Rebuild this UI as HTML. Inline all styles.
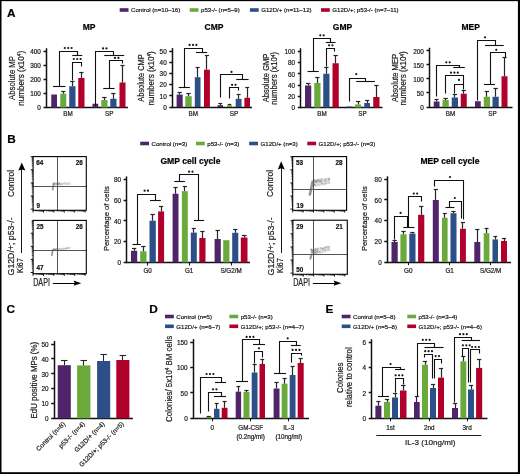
<!DOCTYPE html>
<html><head><meta charset="utf-8"><style>
html,body{margin:0;padding:0;background:#fff;}
body{width:520px;height:474px;overflow:hidden;font-family:"Liberation Sans", sans-serif;}
svg{display:block;filter:blur(0.45px);}
</style></head><body>
<svg width="520" height="474" viewBox="0 0 520 474" font-family='"Liberation Sans", sans-serif'>
<rect x="0.00" y="0.00" width="520.00" height="474.00" fill="#fff"/>
<text x="7.00" y="17.30" font-size="11.8" text-anchor="start" font-weight="bold" fill="#000" stroke="#000" stroke-width="0.2">A</text>
<text x="7.30" y="142.90" font-size="11.8" text-anchor="start" font-weight="bold" fill="#000" stroke="#000" stroke-width="0.2">B</text>
<text x="6.60" y="313.30" font-size="11.8" text-anchor="start" font-weight="bold" fill="#000" stroke="#000" stroke-width="0.2">C</text>
<text x="149.20" y="312.80" font-size="11.8" text-anchor="start" font-weight="bold" fill="#000" stroke="#000" stroke-width="0.2">D</text>
<text x="325.50" y="312.80" font-size="11.8" text-anchor="start" font-weight="bold" fill="#000" stroke="#000" stroke-width="0.2">E</text>
<rect x="119.70" y="8.20" width="8.80" height="3.60" fill="#4f2468"/>
<text x="131.00" y="12.20" font-size="6.1" text-anchor="start" font-weight="normal" fill="#1a1a1a" stroke="#1a1a1a" stroke-width="0.2">Control (n=10–16)</text>
<rect x="189.70" y="8.20" width="8.80" height="3.60" fill="#6aaa3c"/>
<text x="201.00" y="12.20" font-size="6.1" text-anchor="start" font-weight="normal" fill="#1a1a1a" stroke="#1a1a1a" stroke-width="0.2">p53-/- (n=5–9)</text>
<rect x="249.90" y="8.20" width="8.80" height="3.60" fill="#2c4f88"/>
<text x="261.20" y="12.20" font-size="6.1" text-anchor="start" font-weight="normal" fill="#1a1a1a" stroke="#1a1a1a" stroke-width="0.2">G12D/+ (n=11–12)</text>
<rect x="321.00" y="8.20" width="8.80" height="3.60" fill="#b1002b"/>
<text x="332.30" y="12.20" font-size="6.1" text-anchor="start" font-weight="normal" fill="#1a1a1a" stroke="#1a1a1a" stroke-width="0.2">G12D/+; p53-/- (n=7–11)</text>
<text x="89.00" y="29.90" font-size="8.5" text-anchor="middle" font-weight="bold" fill="#000" stroke="#000" stroke-width="0.2">MP</text>
<line x1="46.50" y1="48.25" x2="46.50" y2="108.10" stroke="#111" stroke-width="1.5"/>
<line x1="43.50" y1="107.50" x2="46.50" y2="107.50" stroke="#111" stroke-width="1.5"/>
<text x="40.90" y="110.30" font-size="6.4" text-anchor="end" font-weight="normal" fill="#1a1a1a" stroke="#1a1a1a" stroke-width="0.2">0</text>
<line x1="43.50" y1="93.50" x2="46.50" y2="93.50" stroke="#111" stroke-width="1.5"/>
<text x="40.90" y="96.24" font-size="6.4" text-anchor="end" font-weight="normal" fill="#1a1a1a" stroke="#1a1a1a" stroke-width="0.2">100</text>
<line x1="43.50" y1="79.50" x2="46.50" y2="79.50" stroke="#111" stroke-width="1.5"/>
<text x="40.90" y="82.18" font-size="6.4" text-anchor="end" font-weight="normal" fill="#1a1a1a" stroke="#1a1a1a" stroke-width="0.2">200</text>
<line x1="43.50" y1="65.50" x2="46.50" y2="65.50" stroke="#111" stroke-width="1.5"/>
<text x="40.90" y="68.12" font-size="6.4" text-anchor="end" font-weight="normal" fill="#1a1a1a" stroke="#1a1a1a" stroke-width="0.2">300</text>
<line x1="43.50" y1="51.50" x2="46.50" y2="51.50" stroke="#111" stroke-width="1.5"/>
<text x="40.90" y="54.05" font-size="6.4" text-anchor="end" font-weight="normal" fill="#1a1a1a" stroke="#1a1a1a" stroke-width="0.2">400</text>
<line x1="45.90" y1="107.50" x2="128.00" y2="107.50" stroke="#111" stroke-width="1.5"/>
<rect x="51.25" y="94.50" width="5.75" height="13.00" fill="#4f2468"/>
<rect x="60.25" y="93.75" width="6.00" height="13.75" fill="#6aaa3c"/>
<rect x="69.25" y="86.25" width="6.25" height="21.25" fill="#2c4f88"/>
<rect x="78.25" y="78.00" width="6.25" height="29.50" fill="#b1002b"/>
<line x1="63.50" y1="93.75" x2="63.50" y2="91.25" stroke="#262626" stroke-width="1.2"/>
<line x1="61.15" y1="91.50" x2="65.35" y2="91.50" stroke="#262626" stroke-width="1.2"/>
<line x1="72.50" y1="86.25" x2="72.50" y2="81.75" stroke="#262626" stroke-width="1.2"/>
<line x1="70.19" y1="81.50" x2="74.56" y2="81.50" stroke="#262626" stroke-width="1.2"/>
<line x1="81.50" y1="78.00" x2="81.50" y2="72.50" stroke="#262626" stroke-width="1.2"/>
<line x1="79.19" y1="72.50" x2="83.56" y2="72.50" stroke="#262626" stroke-width="1.2"/>
<rect x="92.50" y="103.75" width="5.75" height="3.75" fill="#4f2468"/>
<rect x="101.25" y="100.00" width="6.25" height="7.50" fill="#6aaa3c"/>
<rect x="110.25" y="98.75" width="6.25" height="8.75" fill="#2c4f88"/>
<rect x="119.50" y="82.50" width="6.00" height="25.00" fill="#b1002b"/>
<line x1="104.50" y1="100.00" x2="104.50" y2="97.00" stroke="#262626" stroke-width="1.2"/>
<line x1="102.19" y1="97.50" x2="106.56" y2="97.50" stroke="#262626" stroke-width="1.2"/>
<line x1="113.50" y1="98.75" x2="113.50" y2="93.00" stroke="#262626" stroke-width="1.2"/>
<line x1="111.19" y1="93.50" x2="115.56" y2="93.50" stroke="#262626" stroke-width="1.2"/>
<line x1="122.50" y1="82.50" x2="122.50" y2="65.75" stroke="#262626" stroke-width="1.2"/>
<line x1="120.40" y1="65.50" x2="124.60" y2="65.50" stroke="#262626" stroke-width="1.2"/>
<text x="68.10" y="116.00" font-size="6.3" text-anchor="middle" font-weight="normal" fill="#1a1a1a" stroke="#1a1a1a" stroke-width="0.2">BM</text>
<text x="109.30" y="116.00" font-size="6.3" text-anchor="middle" font-weight="normal" fill="#1a1a1a" stroke="#1a1a1a" stroke-width="0.2">SP</text>
<text x="14.90" y="78.00" font-size="8.4" text-anchor="middle" font-weight="normal" fill="#1a1a1a" stroke="#1a1a1a" stroke-width="0.2" transform="rotate(-90 14.90 78.00)" textLength="43.9" lengthAdjust="spacingAndGlyphs">Absolute MP</text>
<text x="24.00" y="78.30" font-size="8.4" text-anchor="middle" font-weight="normal" fill="#1a1a1a" stroke="#1a1a1a" stroke-width="0.2" transform="rotate(-90 24.00 78.30)" textLength="54.9" lengthAdjust="spacingAndGlyphs">numbers (x10<tspan dy="-2.5" font-size="5">4</tspan><tspan dy="2.5">)</tspan></text>
<text x="214.00" y="29.90" font-size="8.5" text-anchor="middle" font-weight="bold" fill="#000" stroke="#000" stroke-width="0.2">CMP</text>
<line x1="172.50" y1="48.10" x2="172.50" y2="107.60" stroke="#111" stroke-width="1.5"/>
<line x1="169.30" y1="107.50" x2="172.30" y2="107.50" stroke="#111" stroke-width="1.5"/>
<text x="166.70" y="109.80" font-size="6.4" text-anchor="end" font-weight="normal" fill="#1a1a1a" stroke="#1a1a1a" stroke-width="0.2">0</text>
<line x1="169.30" y1="95.50" x2="172.30" y2="95.50" stroke="#111" stroke-width="1.5"/>
<text x="166.70" y="98.62" font-size="6.4" text-anchor="end" font-weight="normal" fill="#1a1a1a" stroke="#1a1a1a" stroke-width="0.2">10</text>
<line x1="169.30" y1="84.50" x2="172.30" y2="84.50" stroke="#111" stroke-width="1.5"/>
<text x="166.70" y="87.44" font-size="6.4" text-anchor="end" font-weight="normal" fill="#1a1a1a" stroke="#1a1a1a" stroke-width="0.2">20</text>
<line x1="169.30" y1="73.50" x2="172.30" y2="73.50" stroke="#111" stroke-width="1.5"/>
<text x="166.70" y="76.26" font-size="6.4" text-anchor="end" font-weight="normal" fill="#1a1a1a" stroke="#1a1a1a" stroke-width="0.2">30</text>
<line x1="169.30" y1="62.50" x2="172.30" y2="62.50" stroke="#111" stroke-width="1.5"/>
<text x="166.70" y="65.08" font-size="6.4" text-anchor="end" font-weight="normal" fill="#1a1a1a" stroke="#1a1a1a" stroke-width="0.2">40</text>
<line x1="169.30" y1="51.50" x2="172.30" y2="51.50" stroke="#111" stroke-width="1.5"/>
<text x="166.70" y="53.90" font-size="6.4" text-anchor="end" font-weight="normal" fill="#1a1a1a" stroke="#1a1a1a" stroke-width="0.2">50</text>
<line x1="171.70" y1="107.50" x2="252.00" y2="107.50" stroke="#111" stroke-width="1.5"/>
<rect x="176.60" y="94.60" width="6.10" height="12.40" fill="#4f2468"/>
<rect x="185.30" y="96.20" width="6.40" height="10.80" fill="#6aaa3c"/>
<rect x="194.80" y="77.20" width="5.70" height="29.80" fill="#2c4f88"/>
<rect x="204.00" y="69.70" width="5.90" height="37.30" fill="#b1002b"/>
<line x1="179.50" y1="94.60" x2="179.50" y2="92.20" stroke="#262626" stroke-width="1.2"/>
<line x1="177.51" y1="92.50" x2="181.78" y2="92.50" stroke="#262626" stroke-width="1.2"/>
<line x1="188.50" y1="96.20" x2="188.50" y2="93.50" stroke="#262626" stroke-width="1.2"/>
<line x1="186.26" y1="93.50" x2="190.74" y2="93.50" stroke="#262626" stroke-width="1.2"/>
<line x1="197.50" y1="77.20" x2="197.50" y2="67.20" stroke="#262626" stroke-width="1.2"/>
<line x1="195.66" y1="67.50" x2="199.65" y2="67.50" stroke="#262626" stroke-width="1.2"/>
<line x1="206.50" y1="69.70" x2="206.50" y2="55.80" stroke="#262626" stroke-width="1.2"/>
<line x1="204.88" y1="55.50" x2="209.01" y2="55.50" stroke="#262626" stroke-width="1.2"/>
<rect x="217.50" y="105.20" width="5.50" height="1.80" fill="#4f2468"/>
<rect x="227.00" y="105.20" width="5.00" height="1.80" fill="#6aaa3c"/>
<rect x="235.70" y="98.90" width="5.80" height="8.10" fill="#2c4f88"/>
<rect x="244.40" y="97.80" width="5.60" height="9.20" fill="#b1002b"/>
<line x1="220.50" y1="105.20" x2="220.50" y2="103.30" stroke="#262626" stroke-width="1.2"/>
<line x1="218.32" y1="103.50" x2="222.18" y2="103.50" stroke="#262626" stroke-width="1.2"/>
<line x1="229.50" y1="105.20" x2="229.50" y2="104.00" stroke="#262626" stroke-width="1.2"/>
<line x1="227.75" y1="104.50" x2="231.25" y2="104.50" stroke="#262626" stroke-width="1.2"/>
<line x1="238.50" y1="98.90" x2="238.50" y2="94.30" stroke="#262626" stroke-width="1.2"/>
<line x1="236.57" y1="94.50" x2="240.63" y2="94.50" stroke="#262626" stroke-width="1.2"/>
<line x1="247.50" y1="97.80" x2="247.50" y2="87.50" stroke="#262626" stroke-width="1.2"/>
<line x1="245.24" y1="87.50" x2="249.16" y2="87.50" stroke="#262626" stroke-width="1.2"/>
<text x="193.20" y="116.00" font-size="6.3" text-anchor="middle" font-weight="normal" fill="#1a1a1a" stroke="#1a1a1a" stroke-width="0.2">BM</text>
<text x="234.00" y="116.00" font-size="6.3" text-anchor="middle" font-weight="normal" fill="#1a1a1a" stroke="#1a1a1a" stroke-width="0.2">SP</text>
<text x="144.30" y="78.00" font-size="8.4" text-anchor="middle" font-weight="normal" fill="#1a1a1a" stroke="#1a1a1a" stroke-width="0.2" transform="rotate(-90 144.30 78.00)" textLength="47.3" lengthAdjust="spacingAndGlyphs">Absolute CMP</text>
<text x="153.80" y="78.30" font-size="8.4" text-anchor="middle" font-weight="normal" fill="#1a1a1a" stroke="#1a1a1a" stroke-width="0.2" transform="rotate(-90 153.80 78.30)" textLength="54.2" lengthAdjust="spacingAndGlyphs">numbers (x10<tspan dy="-2.5" font-size="5">4</tspan><tspan dy="2.5">)</tspan></text>
<text x="342.50" y="29.90" font-size="8.5" text-anchor="middle" font-weight="bold" fill="#000" stroke="#000" stroke-width="0.2">GMP</text>
<line x1="300.50" y1="48.25" x2="300.50" y2="108.10" stroke="#111" stroke-width="1.5"/>
<line x1="297.75" y1="107.50" x2="300.75" y2="107.50" stroke="#111" stroke-width="1.5"/>
<text x="295.15" y="110.30" font-size="6.4" text-anchor="end" font-weight="normal" fill="#1a1a1a" stroke="#1a1a1a" stroke-width="0.2">0</text>
<line x1="297.75" y1="96.50" x2="300.75" y2="96.50" stroke="#111" stroke-width="1.5"/>
<text x="295.15" y="99.05" font-size="6.4" text-anchor="end" font-weight="normal" fill="#1a1a1a" stroke="#1a1a1a" stroke-width="0.2">20</text>
<line x1="297.75" y1="85.50" x2="300.75" y2="85.50" stroke="#111" stroke-width="1.5"/>
<text x="295.15" y="87.80" font-size="6.4" text-anchor="end" font-weight="normal" fill="#1a1a1a" stroke="#1a1a1a" stroke-width="0.2">40</text>
<line x1="297.75" y1="73.50" x2="300.75" y2="73.50" stroke="#111" stroke-width="1.5"/>
<text x="295.15" y="76.55" font-size="6.4" text-anchor="end" font-weight="normal" fill="#1a1a1a" stroke="#1a1a1a" stroke-width="0.2">60</text>
<line x1="297.75" y1="62.50" x2="300.75" y2="62.50" stroke="#111" stroke-width="1.5"/>
<text x="295.15" y="65.30" font-size="6.4" text-anchor="end" font-weight="normal" fill="#1a1a1a" stroke="#1a1a1a" stroke-width="0.2">80</text>
<line x1="297.75" y1="51.50" x2="300.75" y2="51.50" stroke="#111" stroke-width="1.5"/>
<text x="295.15" y="54.05" font-size="6.4" text-anchor="end" font-weight="normal" fill="#1a1a1a" stroke="#1a1a1a" stroke-width="0.2">100</text>
<line x1="300.15" y1="107.50" x2="382.50" y2="107.50" stroke="#111" stroke-width="1.5"/>
<rect x="305.00" y="85.50" width="6.25" height="22.00" fill="#4f2468"/>
<rect x="314.25" y="83.00" width="6.25" height="24.50" fill="#6aaa3c"/>
<rect x="323.25" y="73.75" width="6.25" height="33.75" fill="#2c4f88"/>
<rect x="332.50" y="63.25" width="6.25" height="44.25" fill="#b1002b"/>
<line x1="308.50" y1="85.50" x2="308.50" y2="83.25" stroke="#262626" stroke-width="1.2"/>
<line x1="305.94" y1="83.50" x2="310.31" y2="83.50" stroke="#262626" stroke-width="1.2"/>
<line x1="317.50" y1="83.00" x2="317.50" y2="77.00" stroke="#262626" stroke-width="1.2"/>
<line x1="315.19" y1="77.50" x2="319.56" y2="77.50" stroke="#262626" stroke-width="1.2"/>
<line x1="326.50" y1="73.75" x2="326.50" y2="67.50" stroke="#262626" stroke-width="1.2"/>
<line x1="324.19" y1="67.50" x2="328.56" y2="67.50" stroke="#262626" stroke-width="1.2"/>
<line x1="335.50" y1="63.25" x2="335.50" y2="55.00" stroke="#262626" stroke-width="1.2"/>
<line x1="333.44" y1="55.50" x2="337.81" y2="55.50" stroke="#262626" stroke-width="1.2"/>
<rect x="346.25" y="106.60" width="5.75" height="0.90" fill="#4f2468"/>
<rect x="355.00" y="104.50" width="6.25" height="3.00" fill="#6aaa3c"/>
<rect x="364.25" y="103.00" width="5.75" height="4.50" fill="#2c4f88"/>
<rect x="373.25" y="97.00" width="6.25" height="10.50" fill="#b1002b"/>
<line x1="358.50" y1="104.50" x2="358.50" y2="101.75" stroke="#262626" stroke-width="1.2"/>
<line x1="355.94" y1="101.50" x2="360.31" y2="101.50" stroke="#262626" stroke-width="1.2"/>
<line x1="367.50" y1="103.00" x2="367.50" y2="100.00" stroke="#262626" stroke-width="1.2"/>
<line x1="365.11" y1="100.50" x2="369.14" y2="100.50" stroke="#262626" stroke-width="1.2"/>
<line x1="376.50" y1="97.00" x2="376.50" y2="85.75" stroke="#262626" stroke-width="1.2"/>
<line x1="374.19" y1="85.50" x2="378.56" y2="85.50" stroke="#262626" stroke-width="1.2"/>
<text x="322.00" y="116.00" font-size="6.3" text-anchor="middle" font-weight="normal" fill="#1a1a1a" stroke="#1a1a1a" stroke-width="0.2">BM</text>
<text x="362.50" y="116.00" font-size="6.3" text-anchor="middle" font-weight="normal" fill="#1a1a1a" stroke="#1a1a1a" stroke-width="0.2">SP</text>
<text x="268.60" y="78.00" font-size="8.4" text-anchor="middle" font-weight="normal" fill="#1a1a1a" stroke="#1a1a1a" stroke-width="0.2" transform="rotate(-90 268.60 78.00)" textLength="48.7" lengthAdjust="spacingAndGlyphs">Absolute GMP</text>
<text x="277.40" y="78.30" font-size="8.4" text-anchor="middle" font-weight="normal" fill="#1a1a1a" stroke="#1a1a1a" stroke-width="0.2" transform="rotate(-90 277.40 78.30)" textLength="52.9" lengthAdjust="spacingAndGlyphs">numbers (x10<tspan dy="-2.5" font-size="5">4</tspan><tspan dy="2.5">)</tspan></text>
<text x="470.75" y="29.90" font-size="8.5" text-anchor="middle" font-weight="bold" fill="#000" stroke="#000" stroke-width="0.2">MEP</text>
<line x1="429.50" y1="47.75" x2="429.50" y2="107.60" stroke="#111" stroke-width="1.5"/>
<line x1="426.50" y1="107.50" x2="429.50" y2="107.50" stroke="#111" stroke-width="1.5"/>
<text x="423.90" y="109.80" font-size="6.4" text-anchor="end" font-weight="normal" fill="#1a1a1a" stroke="#1a1a1a" stroke-width="0.2">0</text>
<line x1="426.50" y1="92.50" x2="429.50" y2="92.50" stroke="#111" stroke-width="1.5"/>
<text x="423.90" y="95.74" font-size="6.4" text-anchor="end" font-weight="normal" fill="#1a1a1a" stroke="#1a1a1a" stroke-width="0.2">50</text>
<line x1="426.50" y1="78.50" x2="429.50" y2="78.50" stroke="#111" stroke-width="1.5"/>
<text x="423.90" y="81.68" font-size="6.4" text-anchor="end" font-weight="normal" fill="#1a1a1a" stroke="#1a1a1a" stroke-width="0.2">100</text>
<line x1="426.50" y1="64.50" x2="429.50" y2="64.50" stroke="#111" stroke-width="1.5"/>
<text x="423.90" y="67.62" font-size="6.4" text-anchor="end" font-weight="normal" fill="#1a1a1a" stroke="#1a1a1a" stroke-width="0.2">150</text>
<line x1="426.50" y1="50.50" x2="429.50" y2="50.50" stroke="#111" stroke-width="1.5"/>
<text x="423.90" y="53.55" font-size="6.4" text-anchor="end" font-weight="normal" fill="#1a1a1a" stroke="#1a1a1a" stroke-width="0.2">200</text>
<line x1="428.90" y1="107.50" x2="512.50" y2="107.50" stroke="#111" stroke-width="1.5"/>
<rect x="433.75" y="101.50" width="5.75" height="5.50" fill="#4f2468"/>
<rect x="442.50" y="100.00" width="6.25" height="7.00" fill="#6aaa3c"/>
<rect x="451.75" y="97.50" width="6.25" height="9.50" fill="#2c4f88"/>
<rect x="460.75" y="93.75" width="6.00" height="13.25" fill="#b1002b"/>
<line x1="436.50" y1="101.50" x2="436.50" y2="99.50" stroke="#262626" stroke-width="1.2"/>
<line x1="434.61" y1="99.50" x2="438.64" y2="99.50" stroke="#262626" stroke-width="1.2"/>
<line x1="445.50" y1="100.00" x2="445.50" y2="98.00" stroke="#262626" stroke-width="1.2"/>
<line x1="443.44" y1="98.50" x2="447.81" y2="98.50" stroke="#262626" stroke-width="1.2"/>
<line x1="454.50" y1="97.50" x2="454.50" y2="94.25" stroke="#262626" stroke-width="1.2"/>
<line x1="452.69" y1="94.50" x2="457.06" y2="94.50" stroke="#262626" stroke-width="1.2"/>
<line x1="463.50" y1="93.75" x2="463.50" y2="90.75" stroke="#262626" stroke-width="1.2"/>
<line x1="461.65" y1="90.50" x2="465.85" y2="90.50" stroke="#262626" stroke-width="1.2"/>
<rect x="475.00" y="101.25" width="5.75" height="5.75" fill="#4f2468"/>
<rect x="483.75" y="96.75" width="6.25" height="10.25" fill="#6aaa3c"/>
<rect x="492.50" y="96.75" width="6.25" height="10.25" fill="#2c4f88"/>
<rect x="501.50" y="76.25" width="6.00" height="30.75" fill="#b1002b"/>
<line x1="486.50" y1="96.75" x2="486.50" y2="91.25" stroke="#262626" stroke-width="1.2"/>
<line x1="484.69" y1="91.50" x2="489.06" y2="91.50" stroke="#262626" stroke-width="1.2"/>
<line x1="495.50" y1="96.75" x2="495.50" y2="88.00" stroke="#262626" stroke-width="1.2"/>
<line x1="493.44" y1="88.50" x2="497.81" y2="88.50" stroke="#262626" stroke-width="1.2"/>
<line x1="504.50" y1="76.25" x2="504.50" y2="57.50" stroke="#262626" stroke-width="1.2"/>
<line x1="502.40" y1="57.50" x2="506.60" y2="57.50" stroke="#262626" stroke-width="1.2"/>
<text x="450.50" y="116.00" font-size="6.3" text-anchor="middle" font-weight="normal" fill="#1a1a1a" stroke="#1a1a1a" stroke-width="0.2">BM</text>
<text x="492.50" y="116.00" font-size="6.3" text-anchor="middle" font-weight="normal" fill="#1a1a1a" stroke="#1a1a1a" stroke-width="0.2">SP</text>
<text x="398.20" y="78.00" font-size="8.4" text-anchor="middle" font-weight="normal" fill="#1a1a1a" stroke="#1a1a1a" stroke-width="0.2" transform="rotate(-90 398.20 78.00)" textLength="48.0" lengthAdjust="spacingAndGlyphs">Absolute MEP</text>
<text x="406.10" y="78.30" font-size="8.4" text-anchor="middle" font-weight="normal" fill="#1a1a1a" stroke="#1a1a1a" stroke-width="0.2" transform="rotate(-90 406.10 78.30)" textLength="54.2" lengthAdjust="spacingAndGlyphs">numbers (x10<tspan dy="-2.5" font-size="5">4</tspan><tspan dy="2.5">)</tspan></text>
<polyline points="59.50,86.50 59.50,51.50 77.50,51.50 77.50,55.50" fill="none" stroke="#111" stroke-width="1.1"/>
<line x1="53.00" y1="86.50" x2="65.50" y2="86.50" stroke="#111" stroke-width="1.1"/>
<line x1="72.30" y1="55.50" x2="82.30" y2="55.50" stroke="#111" stroke-width="1.1"/>
<circle cx="64.80" cy="48.00" r="1.1" fill="#151515"/>
<circle cx="68.20" cy="48.00" r="1.1" fill="#151515"/>
<circle cx="71.60" cy="48.00" r="1.1" fill="#151515"/>
<polyline points="72.50,80.50 72.50,62.50 81.50,62.50 81.50,66.50" fill="none" stroke="#111" stroke-width="1.1"/>
<circle cx="73.80" cy="59.00" r="1.1" fill="#151515"/>
<circle cx="77.20" cy="59.00" r="1.1" fill="#151515"/>
<circle cx="80.60" cy="59.00" r="1.1" fill="#151515"/>
<polyline points="95.50,105.50 95.50,51.50 113.50,51.50 113.50,55.50" fill="none" stroke="#111" stroke-width="1.1"/>
<line x1="104.20" y1="55.50" x2="124.20" y2="55.50" stroke="#111" stroke-width="1.1"/>
<circle cx="103.10" cy="48.40" r="1.1" fill="#151515"/>
<circle cx="106.50" cy="48.40" r="1.1" fill="#151515"/>
<polyline points="109.50,88.50 109.50,60.50 122.50,60.50 122.50,63.50" fill="none" stroke="#111" stroke-width="1.1"/>
<line x1="103.30" y1="88.50" x2="114.60" y2="88.50" stroke="#111" stroke-width="1.1"/>
<circle cx="115.00" cy="57.90" r="1.1" fill="#151515"/>
<circle cx="118.40" cy="57.90" r="1.1" fill="#151515"/>
<polyline points="184.50,87.50 184.50,48.50 202.50,48.50 202.50,52.50" fill="none" stroke="#111" stroke-width="1.1"/>
<line x1="178.70" y1="87.50" x2="189.80" y2="87.50" stroke="#111" stroke-width="1.1"/>
<line x1="196.00" y1="52.50" x2="207.20" y2="52.50" stroke="#111" stroke-width="1.1"/>
<circle cx="189.60" cy="44.90" r="1.1" fill="#151515"/>
<circle cx="193.00" cy="44.90" r="1.1" fill="#151515"/>
<circle cx="196.40" cy="44.90" r="1.1" fill="#151515"/>
<polyline points="220.50,97.50 220.50,74.50 242.50,74.50 242.50,79.50" fill="none" stroke="#111" stroke-width="1.1"/>
<line x1="236.20" y1="79.50" x2="248.60" y2="79.50" stroke="#111" stroke-width="1.1"/>
<circle cx="231.50" cy="71.90" r="1.1" fill="#151515"/>
<polyline points="229.50,98.50 229.50,87.50 238.50,87.50 238.50,90.50" fill="none" stroke="#111" stroke-width="1.1"/>
<circle cx="232.10" cy="84.80" r="1.1" fill="#151515"/>
<circle cx="235.50" cy="84.80" r="1.1" fill="#151515"/>
<polyline points="313.50,71.50 313.50,38.50 330.50,38.50 330.50,42.50" fill="none" stroke="#111" stroke-width="1.1"/>
<line x1="307.50" y1="71.50" x2="318.75" y2="71.50" stroke="#111" stroke-width="1.1"/>
<line x1="325.75" y1="42.50" x2="335.50" y2="42.50" stroke="#111" stroke-width="1.1"/>
<circle cx="320.30" cy="35.30" r="1.1" fill="#151515"/>
<circle cx="323.70" cy="35.30" r="1.1" fill="#151515"/>
<polyline points="326.50,66.50 326.50,48.50 334.50,48.50 334.50,51.50" fill="none" stroke="#111" stroke-width="1.1"/>
<circle cx="329.05" cy="45.30" r="1.1" fill="#151515"/>
<circle cx="332.45" cy="45.30" r="1.1" fill="#151515"/>
<polyline points="349.50,101.50 349.50,78.50 365.50,78.50 365.50,81.50" fill="none" stroke="#111" stroke-width="1.1"/>
<line x1="356.25" y1="81.50" x2="375.00" y2="81.50" stroke="#111" stroke-width="1.1"/>
<circle cx="356.25" cy="74.05" r="1.1" fill="#151515"/>
<polyline points="436.50,96.50 436.50,65.50 459.50,65.50 459.50,67.50" fill="none" stroke="#111" stroke-width="1.1"/>
<line x1="453.20" y1="67.50" x2="464.80" y2="67.50" stroke="#111" stroke-width="1.1"/>
<circle cx="446.30" cy="62.30" r="1.1" fill="#151515"/>
<circle cx="449.70" cy="62.30" r="1.1" fill="#151515"/>
<polyline points="445.50,93.50 445.50,75.50 463.50,75.50 463.50,89.50" fill="none" stroke="#111" stroke-width="1.1"/>
<circle cx="451.00" cy="72.70" r="1.1" fill="#151515"/>
<circle cx="454.40" cy="72.70" r="1.1" fill="#151515"/>
<circle cx="457.80" cy="72.70" r="1.1" fill="#151515"/>
<polyline points="454.50,93.50 454.50,84.50 463.50,84.50" fill="none" stroke="#111" stroke-width="1.1"/>
<circle cx="459.00" cy="79.90" r="1.1" fill="#151515"/>
<polyline points="477.50,100.50 477.50,40.50 495.50,40.50 495.50,45.50" fill="none" stroke="#111" stroke-width="1.1"/>
<line x1="485.00" y1="45.50" x2="503.75" y2="45.50" stroke="#111" stroke-width="1.1"/>
<circle cx="485.00" cy="37.30" r="1.1" fill="#151515"/>
<polyline points="490.50,84.50 490.50,52.50 505.50,52.50 505.50,57.50" fill="none" stroke="#111" stroke-width="1.1"/>
<line x1="484.00" y1="84.50" x2="495.00" y2="84.50" stroke="#111" stroke-width="1.1"/>
<circle cx="496.25" cy="49.80" r="1.1" fill="#151515"/>
<rect x="140.20" y="141.70" width="8.80" height="3.60" fill="#4f2468"/>
<text x="151.50" y="145.70" font-size="6.1" text-anchor="start" font-weight="normal" fill="#1a1a1a" stroke="#1a1a1a" stroke-width="0.2">Control (n=3)</text>
<rect x="196.00" y="141.70" width="8.80" height="3.60" fill="#6aaa3c"/>
<text x="207.30" y="145.70" font-size="6.1" text-anchor="start" font-weight="normal" fill="#1a1a1a" stroke="#1a1a1a" stroke-width="0.2">p53-/- (n=3)</text>
<rect x="249.20" y="141.70" width="8.80" height="3.60" fill="#2c4f88"/>
<text x="260.50" y="145.70" font-size="6.1" text-anchor="start" font-weight="normal" fill="#1a1a1a" stroke="#1a1a1a" stroke-width="0.2">G12D/+ (n=3)</text>
<rect x="307.30" y="141.70" width="8.80" height="3.60" fill="#b1002b"/>
<text x="318.60" y="145.70" font-size="6.1" text-anchor="start" font-weight="normal" fill="#1a1a1a" stroke="#1a1a1a" stroke-width="0.2">G12D/+; p53-/- (n=3)</text>
<line x1="30.70" y1="209.10" x2="33.10" y2="209.10" stroke="#000" stroke-width="0.9"/>
<line x1="31.70" y1="205.16" x2="33.10" y2="205.16" stroke="#000" stroke-width="0.6"/>
<line x1="31.70" y1="202.85" x2="33.10" y2="202.85" stroke="#000" stroke-width="0.6"/>
<line x1="31.70" y1="201.21" x2="33.10" y2="201.21" stroke="#000" stroke-width="0.6"/>
<line x1="31.70" y1="199.94" x2="33.10" y2="199.94" stroke="#000" stroke-width="0.6"/>
<line x1="31.70" y1="198.91" x2="33.10" y2="198.91" stroke="#000" stroke-width="0.6"/>
<line x1="31.70" y1="198.03" x2="33.10" y2="198.03" stroke="#000" stroke-width="0.6"/>
<line x1="31.70" y1="197.27" x2="33.10" y2="197.27" stroke="#000" stroke-width="0.6"/>
<line x1="31.70" y1="196.60" x2="33.10" y2="196.60" stroke="#000" stroke-width="0.6"/>
<line x1="30.70" y1="196.00" x2="33.10" y2="196.00" stroke="#000" stroke-width="0.9"/>
<line x1="31.70" y1="192.06" x2="33.10" y2="192.06" stroke="#000" stroke-width="0.6"/>
<line x1="31.70" y1="189.75" x2="33.10" y2="189.75" stroke="#000" stroke-width="0.6"/>
<line x1="31.70" y1="188.11" x2="33.10" y2="188.11" stroke="#000" stroke-width="0.6"/>
<line x1="31.70" y1="186.84" x2="33.10" y2="186.84" stroke="#000" stroke-width="0.6"/>
<line x1="31.70" y1="185.81" x2="33.10" y2="185.81" stroke="#000" stroke-width="0.6"/>
<line x1="31.70" y1="184.93" x2="33.10" y2="184.93" stroke="#000" stroke-width="0.6"/>
<line x1="31.70" y1="184.17" x2="33.10" y2="184.17" stroke="#000" stroke-width="0.6"/>
<line x1="31.70" y1="183.50" x2="33.10" y2="183.50" stroke="#000" stroke-width="0.6"/>
<line x1="30.70" y1="182.90" x2="33.10" y2="182.90" stroke="#000" stroke-width="0.9"/>
<line x1="31.70" y1="178.96" x2="33.10" y2="178.96" stroke="#000" stroke-width="0.6"/>
<line x1="31.70" y1="176.65" x2="33.10" y2="176.65" stroke="#000" stroke-width="0.6"/>
<line x1="31.70" y1="175.01" x2="33.10" y2="175.01" stroke="#000" stroke-width="0.6"/>
<line x1="31.70" y1="173.74" x2="33.10" y2="173.74" stroke="#000" stroke-width="0.6"/>
<line x1="31.70" y1="172.71" x2="33.10" y2="172.71" stroke="#000" stroke-width="0.6"/>
<line x1="31.70" y1="171.83" x2="33.10" y2="171.83" stroke="#000" stroke-width="0.6"/>
<line x1="31.70" y1="171.07" x2="33.10" y2="171.07" stroke="#000" stroke-width="0.6"/>
<line x1="31.70" y1="170.40" x2="33.10" y2="170.40" stroke="#000" stroke-width="0.6"/>
<line x1="30.70" y1="169.80" x2="33.10" y2="169.80" stroke="#000" stroke-width="0.9"/>
<line x1="31.70" y1="165.86" x2="33.10" y2="165.86" stroke="#000" stroke-width="0.6"/>
<line x1="31.70" y1="163.55" x2="33.10" y2="163.55" stroke="#000" stroke-width="0.6"/>
<line x1="31.70" y1="161.91" x2="33.10" y2="161.91" stroke="#000" stroke-width="0.6"/>
<line x1="31.70" y1="160.64" x2="33.10" y2="160.64" stroke="#000" stroke-width="0.6"/>
<line x1="31.70" y1="159.61" x2="33.10" y2="159.61" stroke="#000" stroke-width="0.6"/>
<line x1="31.70" y1="158.73" x2="33.10" y2="158.73" stroke="#000" stroke-width="0.6"/>
<line x1="31.70" y1="157.97" x2="33.10" y2="157.97" stroke="#000" stroke-width="0.6"/>
<line x1="31.70" y1="157.30" x2="33.10" y2="157.30" stroke="#000" stroke-width="0.6"/>
<line x1="30.70" y1="156.70" x2="33.10" y2="156.70" stroke="#000" stroke-width="0.9"/>
<line x1="33.10" y1="210.30" x2="33.10" y2="212.50" stroke="#000" stroke-width="0.9"/>
<line x1="36.23" y1="210.30" x2="36.23" y2="211.60" stroke="#000" stroke-width="0.6"/>
<line x1="38.06" y1="210.30" x2="38.06" y2="211.60" stroke="#000" stroke-width="0.6"/>
<line x1="39.36" y1="210.30" x2="39.36" y2="211.60" stroke="#000" stroke-width="0.6"/>
<line x1="40.37" y1="210.30" x2="40.37" y2="211.60" stroke="#000" stroke-width="0.6"/>
<line x1="41.19" y1="210.30" x2="41.19" y2="211.60" stroke="#000" stroke-width="0.6"/>
<line x1="41.89" y1="210.30" x2="41.89" y2="211.60" stroke="#000" stroke-width="0.6"/>
<line x1="42.49" y1="210.30" x2="42.49" y2="211.60" stroke="#000" stroke-width="0.6"/>
<line x1="43.02" y1="210.30" x2="43.02" y2="211.60" stroke="#000" stroke-width="0.6"/>
<line x1="43.50" y1="210.30" x2="43.50" y2="212.50" stroke="#000" stroke-width="0.9"/>
<line x1="46.63" y1="210.30" x2="46.63" y2="211.60" stroke="#000" stroke-width="0.6"/>
<line x1="48.46" y1="210.30" x2="48.46" y2="211.60" stroke="#000" stroke-width="0.6"/>
<line x1="49.76" y1="210.30" x2="49.76" y2="211.60" stroke="#000" stroke-width="0.6"/>
<line x1="50.77" y1="210.30" x2="50.77" y2="211.60" stroke="#000" stroke-width="0.6"/>
<line x1="51.59" y1="210.30" x2="51.59" y2="211.60" stroke="#000" stroke-width="0.6"/>
<line x1="52.29" y1="210.30" x2="52.29" y2="211.60" stroke="#000" stroke-width="0.6"/>
<line x1="52.89" y1="210.30" x2="52.89" y2="211.60" stroke="#000" stroke-width="0.6"/>
<line x1="53.42" y1="210.30" x2="53.42" y2="211.60" stroke="#000" stroke-width="0.6"/>
<line x1="53.90" y1="210.30" x2="53.90" y2="212.50" stroke="#000" stroke-width="0.9"/>
<line x1="57.03" y1="210.30" x2="57.03" y2="211.60" stroke="#000" stroke-width="0.6"/>
<line x1="58.86" y1="210.30" x2="58.86" y2="211.60" stroke="#000" stroke-width="0.6"/>
<line x1="60.16" y1="210.30" x2="60.16" y2="211.60" stroke="#000" stroke-width="0.6"/>
<line x1="61.17" y1="210.30" x2="61.17" y2="211.60" stroke="#000" stroke-width="0.6"/>
<line x1="61.99" y1="210.30" x2="61.99" y2="211.60" stroke="#000" stroke-width="0.6"/>
<line x1="62.69" y1="210.30" x2="62.69" y2="211.60" stroke="#000" stroke-width="0.6"/>
<line x1="63.29" y1="210.30" x2="63.29" y2="211.60" stroke="#000" stroke-width="0.6"/>
<line x1="63.82" y1="210.30" x2="63.82" y2="211.60" stroke="#000" stroke-width="0.6"/>
<line x1="64.30" y1="210.30" x2="64.30" y2="212.50" stroke="#000" stroke-width="0.9"/>
<line x1="67.43" y1="210.30" x2="67.43" y2="211.60" stroke="#000" stroke-width="0.6"/>
<line x1="69.26" y1="210.30" x2="69.26" y2="211.60" stroke="#000" stroke-width="0.6"/>
<line x1="70.56" y1="210.30" x2="70.56" y2="211.60" stroke="#000" stroke-width="0.6"/>
<line x1="71.57" y1="210.30" x2="71.57" y2="211.60" stroke="#000" stroke-width="0.6"/>
<line x1="72.39" y1="210.30" x2="72.39" y2="211.60" stroke="#000" stroke-width="0.6"/>
<line x1="73.09" y1="210.30" x2="73.09" y2="211.60" stroke="#000" stroke-width="0.6"/>
<line x1="73.69" y1="210.30" x2="73.69" y2="211.60" stroke="#000" stroke-width="0.6"/>
<line x1="74.22" y1="210.30" x2="74.22" y2="211.60" stroke="#000" stroke-width="0.6"/>
<line x1="74.70" y1="210.30" x2="74.70" y2="212.50" stroke="#000" stroke-width="0.9"/>
<line x1="77.83" y1="210.30" x2="77.83" y2="211.60" stroke="#000" stroke-width="0.6"/>
<line x1="79.66" y1="210.30" x2="79.66" y2="211.60" stroke="#000" stroke-width="0.6"/>
<line x1="80.96" y1="210.30" x2="80.96" y2="211.60" stroke="#000" stroke-width="0.6"/>
<line x1="81.97" y1="210.30" x2="81.97" y2="211.60" stroke="#000" stroke-width="0.6"/>
<line x1="82.79" y1="210.30" x2="82.79" y2="211.60" stroke="#000" stroke-width="0.6"/>
<line x1="83.49" y1="210.30" x2="83.49" y2="211.60" stroke="#000" stroke-width="0.6"/>
<line x1="84.09" y1="210.30" x2="84.09" y2="211.60" stroke="#000" stroke-width="0.6"/>
<line x1="84.62" y1="210.30" x2="84.62" y2="211.60" stroke="#000" stroke-width="0.6"/>
<line x1="85.10" y1="210.30" x2="85.10" y2="212.50" stroke="#000" stroke-width="0.9"/>
<polygon points="53.90,182.60 70.60,182.40 70.60,184.60 53.90,185.20" fill="#c4c4c4" opacity="0.45"/><circle cx="59.31" cy="182.82" r="0.38" fill="#707070" opacity="0.48"/><circle cx="62.85" cy="183.42" r="0.53" fill="#707070" opacity="0.30"/><circle cx="54.53" cy="183.61" r="0.38" fill="#707070" opacity="0.45"/><circle cx="60.99" cy="184.72" r="0.43" fill="#707070" opacity="0.35"/><circle cx="63.54" cy="183.51" r="0.37" fill="#707070" opacity="0.47"/><circle cx="68.24" cy="183.21" r="0.39" fill="#707070" opacity="0.22"/><circle cx="59.05" cy="184.69" r="0.55" fill="#707070" opacity="0.39"/><circle cx="64.57" cy="183.44" r="0.37" fill="#707070" opacity="0.37"/><circle cx="54.90" cy="182.98" r="0.50" fill="#707070" opacity="0.57"/><circle cx="59.15" cy="184.04" r="0.45" fill="#707070" opacity="0.45"/><circle cx="67.17" cy="184.36" r="0.55" fill="#707070" opacity="0.26"/><circle cx="62.67" cy="184.85" r="0.45" fill="#707070" opacity="0.44"/><circle cx="70.27" cy="182.73" r="0.61" fill="#707070" opacity="0.24"/><circle cx="56.44" cy="183.77" r="0.58" fill="#707070" opacity="0.41"/><circle cx="66.67" cy="184.00" r="0.46" fill="#707070" opacity="0.40"/><circle cx="65.51" cy="184.06" r="0.51" fill="#707070" opacity="0.36"/><circle cx="61.82" cy="184.26" r="0.60" fill="#707070" opacity="0.32"/><circle cx="67.63" cy="183.20" r="0.58" fill="#707070" opacity="0.28"/><circle cx="54.28" cy="183.69" r="0.39" fill="#707070" opacity="0.48"/><circle cx="54.88" cy="184.55" r="0.44" fill="#707070" opacity="0.46"/><circle cx="60.43" cy="184.84" r="0.51" fill="#707070" opacity="0.35"/><circle cx="58.55" cy="183.56" r="0.66" fill="#707070" opacity="0.44"/><circle cx="69.89" cy="182.82" r="0.43" fill="#707070" opacity="0.20"/><circle cx="57.80" cy="183.76" r="0.44" fill="#707070" opacity="0.50"/><circle cx="53.97" cy="183.57" r="0.55" fill="#707070" opacity="0.52"/><circle cx="69.82" cy="184.33" r="0.57" fill="#707070" opacity="0.27"/><circle cx="65.19" cy="182.55" r="0.62" fill="#707070" opacity="0.43"/><circle cx="68.50" cy="184.63" r="0.49" fill="#707070" opacity="0.27"/><circle cx="55.63" cy="184.18" r="0.37" fill="#707070" opacity="0.43"/><circle cx="57.39" cy="182.85" r="0.37" fill="#707070" opacity="0.46"/><circle cx="53.90" cy="182.82" r="0.48" fill="#707070" opacity="0.47"/><circle cx="54.33" cy="184.85" r="0.40" fill="#707070" opacity="0.57"/><circle cx="58.11" cy="183.37" r="0.39" fill="#707070" opacity="0.45"/><circle cx="61.68" cy="183.75" r="0.39" fill="#707070" opacity="0.33"/><circle cx="59.62" cy="183.14" r="0.41" fill="#707070" opacity="0.51"/><circle cx="54.29" cy="185.06" r="0.40" fill="#707070" opacity="0.55"/><polygon points="53.90,182.60 61.00,182.50 61.00,184.80 53.90,185.20" fill="#8a8a8a" opacity="0.35"/><line x1="53.4" y1="183.5" x2="52.8" y2="189.8" stroke="#7a7a7a" stroke-width="1.6" stroke-linecap="round" opacity="0.8"/>
<line x1="57.50" y1="156.60" x2="57.50" y2="210.30" stroke="#555" stroke-width="1.0"/>
<line x1="33.10" y1="186.50" x2="86.30" y2="186.50" stroke="#555" stroke-width="1.0"/>
<rect x="33.10" y="156.60" width="53.20" height="53.70" fill="none" stroke="#000" stroke-width="1.1"/>
<text x="36.20" y="164.90" font-size="6.3" text-anchor="start" font-weight="bold" fill="#111" stroke="#111" stroke-width="0.2">64</text>
<text x="82.80" y="164.90" font-size="6.3" text-anchor="end" font-weight="bold" fill="#111" stroke="#111" stroke-width="0.2">26</text>
<text x="36.60" y="207.60" font-size="6.3" text-anchor="start" font-weight="bold" fill="#111" stroke="#111" stroke-width="0.2">9</text>
<line x1="30.70" y1="272.50" x2="33.10" y2="272.50" stroke="#000" stroke-width="0.9"/>
<line x1="31.70" y1="268.56" x2="33.10" y2="268.56" stroke="#000" stroke-width="0.6"/>
<line x1="31.70" y1="266.25" x2="33.10" y2="266.25" stroke="#000" stroke-width="0.6"/>
<line x1="31.70" y1="264.61" x2="33.10" y2="264.61" stroke="#000" stroke-width="0.6"/>
<line x1="31.70" y1="263.34" x2="33.10" y2="263.34" stroke="#000" stroke-width="0.6"/>
<line x1="31.70" y1="262.31" x2="33.10" y2="262.31" stroke="#000" stroke-width="0.6"/>
<line x1="31.70" y1="261.43" x2="33.10" y2="261.43" stroke="#000" stroke-width="0.6"/>
<line x1="31.70" y1="260.67" x2="33.10" y2="260.67" stroke="#000" stroke-width="0.6"/>
<line x1="31.70" y1="260.00" x2="33.10" y2="260.00" stroke="#000" stroke-width="0.6"/>
<line x1="30.70" y1="259.40" x2="33.10" y2="259.40" stroke="#000" stroke-width="0.9"/>
<line x1="31.70" y1="255.46" x2="33.10" y2="255.46" stroke="#000" stroke-width="0.6"/>
<line x1="31.70" y1="253.15" x2="33.10" y2="253.15" stroke="#000" stroke-width="0.6"/>
<line x1="31.70" y1="251.51" x2="33.10" y2="251.51" stroke="#000" stroke-width="0.6"/>
<line x1="31.70" y1="250.24" x2="33.10" y2="250.24" stroke="#000" stroke-width="0.6"/>
<line x1="31.70" y1="249.21" x2="33.10" y2="249.21" stroke="#000" stroke-width="0.6"/>
<line x1="31.70" y1="248.33" x2="33.10" y2="248.33" stroke="#000" stroke-width="0.6"/>
<line x1="31.70" y1="247.57" x2="33.10" y2="247.57" stroke="#000" stroke-width="0.6"/>
<line x1="31.70" y1="246.90" x2="33.10" y2="246.90" stroke="#000" stroke-width="0.6"/>
<line x1="30.70" y1="246.30" x2="33.10" y2="246.30" stroke="#000" stroke-width="0.9"/>
<line x1="31.70" y1="242.36" x2="33.10" y2="242.36" stroke="#000" stroke-width="0.6"/>
<line x1="31.70" y1="240.05" x2="33.10" y2="240.05" stroke="#000" stroke-width="0.6"/>
<line x1="31.70" y1="238.41" x2="33.10" y2="238.41" stroke="#000" stroke-width="0.6"/>
<line x1="31.70" y1="237.14" x2="33.10" y2="237.14" stroke="#000" stroke-width="0.6"/>
<line x1="31.70" y1="236.11" x2="33.10" y2="236.11" stroke="#000" stroke-width="0.6"/>
<line x1="31.70" y1="235.23" x2="33.10" y2="235.23" stroke="#000" stroke-width="0.6"/>
<line x1="31.70" y1="234.47" x2="33.10" y2="234.47" stroke="#000" stroke-width="0.6"/>
<line x1="31.70" y1="233.80" x2="33.10" y2="233.80" stroke="#000" stroke-width="0.6"/>
<line x1="30.70" y1="233.20" x2="33.10" y2="233.20" stroke="#000" stroke-width="0.9"/>
<line x1="31.70" y1="229.26" x2="33.10" y2="229.26" stroke="#000" stroke-width="0.6"/>
<line x1="31.70" y1="226.95" x2="33.10" y2="226.95" stroke="#000" stroke-width="0.6"/>
<line x1="31.70" y1="225.31" x2="33.10" y2="225.31" stroke="#000" stroke-width="0.6"/>
<line x1="31.70" y1="224.04" x2="33.10" y2="224.04" stroke="#000" stroke-width="0.6"/>
<line x1="31.70" y1="223.01" x2="33.10" y2="223.01" stroke="#000" stroke-width="0.6"/>
<line x1="31.70" y1="222.13" x2="33.10" y2="222.13" stroke="#000" stroke-width="0.6"/>
<line x1="31.70" y1="221.37" x2="33.10" y2="221.37" stroke="#000" stroke-width="0.6"/>
<line x1="31.70" y1="220.70" x2="33.10" y2="220.70" stroke="#000" stroke-width="0.6"/>
<line x1="33.10" y1="273.70" x2="33.10" y2="275.90" stroke="#000" stroke-width="0.9"/>
<line x1="36.23" y1="273.70" x2="36.23" y2="275.00" stroke="#000" stroke-width="0.6"/>
<line x1="38.06" y1="273.70" x2="38.06" y2="275.00" stroke="#000" stroke-width="0.6"/>
<line x1="39.36" y1="273.70" x2="39.36" y2="275.00" stroke="#000" stroke-width="0.6"/>
<line x1="40.37" y1="273.70" x2="40.37" y2="275.00" stroke="#000" stroke-width="0.6"/>
<line x1="41.19" y1="273.70" x2="41.19" y2="275.00" stroke="#000" stroke-width="0.6"/>
<line x1="41.89" y1="273.70" x2="41.89" y2="275.00" stroke="#000" stroke-width="0.6"/>
<line x1="42.49" y1="273.70" x2="42.49" y2="275.00" stroke="#000" stroke-width="0.6"/>
<line x1="43.02" y1="273.70" x2="43.02" y2="275.00" stroke="#000" stroke-width="0.6"/>
<line x1="43.50" y1="273.70" x2="43.50" y2="275.90" stroke="#000" stroke-width="0.9"/>
<line x1="46.63" y1="273.70" x2="46.63" y2="275.00" stroke="#000" stroke-width="0.6"/>
<line x1="48.46" y1="273.70" x2="48.46" y2="275.00" stroke="#000" stroke-width="0.6"/>
<line x1="49.76" y1="273.70" x2="49.76" y2="275.00" stroke="#000" stroke-width="0.6"/>
<line x1="50.77" y1="273.70" x2="50.77" y2="275.00" stroke="#000" stroke-width="0.6"/>
<line x1="51.59" y1="273.70" x2="51.59" y2="275.00" stroke="#000" stroke-width="0.6"/>
<line x1="52.29" y1="273.70" x2="52.29" y2="275.00" stroke="#000" stroke-width="0.6"/>
<line x1="52.89" y1="273.70" x2="52.89" y2="275.00" stroke="#000" stroke-width="0.6"/>
<line x1="53.42" y1="273.70" x2="53.42" y2="275.00" stroke="#000" stroke-width="0.6"/>
<line x1="53.90" y1="273.70" x2="53.90" y2="275.90" stroke="#000" stroke-width="0.9"/>
<line x1="57.03" y1="273.70" x2="57.03" y2="275.00" stroke="#000" stroke-width="0.6"/>
<line x1="58.86" y1="273.70" x2="58.86" y2="275.00" stroke="#000" stroke-width="0.6"/>
<line x1="60.16" y1="273.70" x2="60.16" y2="275.00" stroke="#000" stroke-width="0.6"/>
<line x1="61.17" y1="273.70" x2="61.17" y2="275.00" stroke="#000" stroke-width="0.6"/>
<line x1="61.99" y1="273.70" x2="61.99" y2="275.00" stroke="#000" stroke-width="0.6"/>
<line x1="62.69" y1="273.70" x2="62.69" y2="275.00" stroke="#000" stroke-width="0.6"/>
<line x1="63.29" y1="273.70" x2="63.29" y2="275.00" stroke="#000" stroke-width="0.6"/>
<line x1="63.82" y1="273.70" x2="63.82" y2="275.00" stroke="#000" stroke-width="0.6"/>
<line x1="64.30" y1="273.70" x2="64.30" y2="275.90" stroke="#000" stroke-width="0.9"/>
<line x1="67.43" y1="273.70" x2="67.43" y2="275.00" stroke="#000" stroke-width="0.6"/>
<line x1="69.26" y1="273.70" x2="69.26" y2="275.00" stroke="#000" stroke-width="0.6"/>
<line x1="70.56" y1="273.70" x2="70.56" y2="275.00" stroke="#000" stroke-width="0.6"/>
<line x1="71.57" y1="273.70" x2="71.57" y2="275.00" stroke="#000" stroke-width="0.6"/>
<line x1="72.39" y1="273.70" x2="72.39" y2="275.00" stroke="#000" stroke-width="0.6"/>
<line x1="73.09" y1="273.70" x2="73.09" y2="275.00" stroke="#000" stroke-width="0.6"/>
<line x1="73.69" y1="273.70" x2="73.69" y2="275.00" stroke="#000" stroke-width="0.6"/>
<line x1="74.22" y1="273.70" x2="74.22" y2="275.00" stroke="#000" stroke-width="0.6"/>
<line x1="74.70" y1="273.70" x2="74.70" y2="275.90" stroke="#000" stroke-width="0.9"/>
<line x1="77.83" y1="273.70" x2="77.83" y2="275.00" stroke="#000" stroke-width="0.6"/>
<line x1="79.66" y1="273.70" x2="79.66" y2="275.00" stroke="#000" stroke-width="0.6"/>
<line x1="80.96" y1="273.70" x2="80.96" y2="275.00" stroke="#000" stroke-width="0.6"/>
<line x1="81.97" y1="273.70" x2="81.97" y2="275.00" stroke="#000" stroke-width="0.6"/>
<line x1="82.79" y1="273.70" x2="82.79" y2="275.00" stroke="#000" stroke-width="0.6"/>
<line x1="83.49" y1="273.70" x2="83.49" y2="275.00" stroke="#000" stroke-width="0.6"/>
<line x1="84.09" y1="273.70" x2="84.09" y2="275.00" stroke="#000" stroke-width="0.6"/>
<line x1="84.62" y1="273.70" x2="84.62" y2="275.00" stroke="#000" stroke-width="0.6"/>
<line x1="85.10" y1="273.70" x2="85.10" y2="275.90" stroke="#000" stroke-width="0.9"/>
<polygon points="52.30,248.60 62.00,247.80 70.60,246.80 70.30,248.80 62.00,250.00 52.30,250.60" fill="#c4c4c4" opacity="0.45"/><circle cx="55.36" cy="249.73" r="0.62" fill="#707070" opacity="0.51"/><circle cx="56.45" cy="248.77" r="0.36" fill="#707070" opacity="0.45"/><circle cx="57.04" cy="249.43" r="0.51" fill="#707070" opacity="0.56"/><circle cx="69.78" cy="248.19" r="0.43" fill="#707070" opacity="0.21"/><circle cx="67.68" cy="248.62" r="0.63" fill="#707070" opacity="0.33"/><circle cx="53.85" cy="249.31" r="0.62" fill="#707070" opacity="0.61"/><circle cx="66.03" cy="248.62" r="0.63" fill="#707070" opacity="0.26"/><circle cx="58.39" cy="249.84" r="0.49" fill="#707070" opacity="0.54"/><circle cx="65.56" cy="247.45" r="0.40" fill="#707070" opacity="0.26"/><circle cx="54.97" cy="249.94" r="0.58" fill="#707070" opacity="0.60"/><circle cx="58.71" cy="248.88" r="0.35" fill="#707070" opacity="0.37"/><circle cx="67.42" cy="247.60" r="0.45" fill="#707070" opacity="0.25"/><circle cx="56.70" cy="249.03" r="0.50" fill="#707070" opacity="0.43"/><circle cx="54.70" cy="250.26" r="0.51" fill="#707070" opacity="0.48"/><circle cx="61.48" cy="248.82" r="0.36" fill="#707070" opacity="0.40"/><circle cx="52.37" cy="249.84" r="0.52" fill="#707070" opacity="0.48"/><circle cx="65.57" cy="248.91" r="0.53" fill="#707070" opacity="0.30"/><circle cx="62.46" cy="249.78" r="0.55" fill="#707070" opacity="0.30"/><circle cx="66.43" cy="248.73" r="0.62" fill="#707070" opacity="0.33"/><circle cx="69.00" cy="248.48" r="0.53" fill="#707070" opacity="0.30"/><circle cx="61.67" cy="249.43" r="0.54" fill="#707070" opacity="0.39"/><circle cx="69.54" cy="247.79" r="0.68" fill="#707070" opacity="0.28"/><circle cx="67.67" cy="247.32" r="0.50" fill="#707070" opacity="0.22"/><circle cx="53.64" cy="249.34" r="0.66" fill="#707070" opacity="0.58"/><circle cx="55.13" cy="249.52" r="0.40" fill="#707070" opacity="0.54"/><circle cx="59.59" cy="248.65" r="0.64" fill="#707070" opacity="0.53"/><circle cx="55.25" cy="248.44" r="0.47" fill="#707070" opacity="0.50"/><circle cx="62.44" cy="248.47" r="0.47" fill="#707070" opacity="0.29"/><circle cx="63.72" cy="248.75" r="0.69" fill="#707070" opacity="0.28"/><circle cx="53.02" cy="249.76" r="0.40" fill="#707070" opacity="0.49"/><circle cx="67.29" cy="247.78" r="0.67" fill="#707070" opacity="0.23"/><circle cx="62.74" cy="249.46" r="0.37" fill="#707070" opacity="0.30"/><circle cx="64.89" cy="248.42" r="0.68" fill="#707070" opacity="0.26"/><circle cx="53.83" cy="250.05" r="0.65" fill="#707070" opacity="0.44"/><polygon points="52.30,248.60 58.00,248.20 58.00,250.30 52.30,250.60" fill="#8a8a8a" opacity="0.35"/><line x1="52.6" y1="251.0" x2="51.9" y2="255.4" stroke="#7a7a7a" stroke-width="1.6" stroke-linecap="round" opacity="0.8"/>
<line x1="57.50" y1="220.40" x2="57.50" y2="273.70" stroke="#555" stroke-width="1.0"/>
<line x1="33.10" y1="250.50" x2="86.30" y2="250.50" stroke="#555" stroke-width="1.0"/>
<rect x="33.10" y="220.40" width="53.20" height="53.30" fill="none" stroke="#000" stroke-width="1.1"/>
<text x="36.40" y="229.40" font-size="6.3" text-anchor="start" font-weight="bold" fill="#111" stroke="#111" stroke-width="0.2">25</text>
<text x="82.80" y="229.40" font-size="6.3" text-anchor="end" font-weight="bold" fill="#111" stroke="#111" stroke-width="0.2">26</text>
<text x="36.40" y="270.10" font-size="6.3" text-anchor="start" font-weight="bold" fill="#111" stroke="#111" stroke-width="0.2">47</text>
<line x1="290.30" y1="209.10" x2="292.70" y2="209.10" stroke="#000" stroke-width="0.9"/>
<line x1="291.30" y1="205.16" x2="292.70" y2="205.16" stroke="#000" stroke-width="0.6"/>
<line x1="291.30" y1="202.85" x2="292.70" y2="202.85" stroke="#000" stroke-width="0.6"/>
<line x1="291.30" y1="201.21" x2="292.70" y2="201.21" stroke="#000" stroke-width="0.6"/>
<line x1="291.30" y1="199.94" x2="292.70" y2="199.94" stroke="#000" stroke-width="0.6"/>
<line x1="291.30" y1="198.91" x2="292.70" y2="198.91" stroke="#000" stroke-width="0.6"/>
<line x1="291.30" y1="198.03" x2="292.70" y2="198.03" stroke="#000" stroke-width="0.6"/>
<line x1="291.30" y1="197.27" x2="292.70" y2="197.27" stroke="#000" stroke-width="0.6"/>
<line x1="291.30" y1="196.60" x2="292.70" y2="196.60" stroke="#000" stroke-width="0.6"/>
<line x1="290.30" y1="196.00" x2="292.70" y2="196.00" stroke="#000" stroke-width="0.9"/>
<line x1="291.30" y1="192.06" x2="292.70" y2="192.06" stroke="#000" stroke-width="0.6"/>
<line x1="291.30" y1="189.75" x2="292.70" y2="189.75" stroke="#000" stroke-width="0.6"/>
<line x1="291.30" y1="188.11" x2="292.70" y2="188.11" stroke="#000" stroke-width="0.6"/>
<line x1="291.30" y1="186.84" x2="292.70" y2="186.84" stroke="#000" stroke-width="0.6"/>
<line x1="291.30" y1="185.81" x2="292.70" y2="185.81" stroke="#000" stroke-width="0.6"/>
<line x1="291.30" y1="184.93" x2="292.70" y2="184.93" stroke="#000" stroke-width="0.6"/>
<line x1="291.30" y1="184.17" x2="292.70" y2="184.17" stroke="#000" stroke-width="0.6"/>
<line x1="291.30" y1="183.50" x2="292.70" y2="183.50" stroke="#000" stroke-width="0.6"/>
<line x1="290.30" y1="182.90" x2="292.70" y2="182.90" stroke="#000" stroke-width="0.9"/>
<line x1="291.30" y1="178.96" x2="292.70" y2="178.96" stroke="#000" stroke-width="0.6"/>
<line x1="291.30" y1="176.65" x2="292.70" y2="176.65" stroke="#000" stroke-width="0.6"/>
<line x1="291.30" y1="175.01" x2="292.70" y2="175.01" stroke="#000" stroke-width="0.6"/>
<line x1="291.30" y1="173.74" x2="292.70" y2="173.74" stroke="#000" stroke-width="0.6"/>
<line x1="291.30" y1="172.71" x2="292.70" y2="172.71" stroke="#000" stroke-width="0.6"/>
<line x1="291.30" y1="171.83" x2="292.70" y2="171.83" stroke="#000" stroke-width="0.6"/>
<line x1="291.30" y1="171.07" x2="292.70" y2="171.07" stroke="#000" stroke-width="0.6"/>
<line x1="291.30" y1="170.40" x2="292.70" y2="170.40" stroke="#000" stroke-width="0.6"/>
<line x1="290.30" y1="169.80" x2="292.70" y2="169.80" stroke="#000" stroke-width="0.9"/>
<line x1="291.30" y1="165.86" x2="292.70" y2="165.86" stroke="#000" stroke-width="0.6"/>
<line x1="291.30" y1="163.55" x2="292.70" y2="163.55" stroke="#000" stroke-width="0.6"/>
<line x1="291.30" y1="161.91" x2="292.70" y2="161.91" stroke="#000" stroke-width="0.6"/>
<line x1="291.30" y1="160.64" x2="292.70" y2="160.64" stroke="#000" stroke-width="0.6"/>
<line x1="291.30" y1="159.61" x2="292.70" y2="159.61" stroke="#000" stroke-width="0.6"/>
<line x1="291.30" y1="158.73" x2="292.70" y2="158.73" stroke="#000" stroke-width="0.6"/>
<line x1="291.30" y1="157.97" x2="292.70" y2="157.97" stroke="#000" stroke-width="0.6"/>
<line x1="291.30" y1="157.30" x2="292.70" y2="157.30" stroke="#000" stroke-width="0.6"/>
<line x1="290.30" y1="156.70" x2="292.70" y2="156.70" stroke="#000" stroke-width="0.9"/>
<line x1="292.70" y1="210.30" x2="292.70" y2="212.50" stroke="#000" stroke-width="0.9"/>
<line x1="295.83" y1="210.30" x2="295.83" y2="211.60" stroke="#000" stroke-width="0.6"/>
<line x1="297.66" y1="210.30" x2="297.66" y2="211.60" stroke="#000" stroke-width="0.6"/>
<line x1="298.96" y1="210.30" x2="298.96" y2="211.60" stroke="#000" stroke-width="0.6"/>
<line x1="299.97" y1="210.30" x2="299.97" y2="211.60" stroke="#000" stroke-width="0.6"/>
<line x1="300.79" y1="210.30" x2="300.79" y2="211.60" stroke="#000" stroke-width="0.6"/>
<line x1="301.49" y1="210.30" x2="301.49" y2="211.60" stroke="#000" stroke-width="0.6"/>
<line x1="302.09" y1="210.30" x2="302.09" y2="211.60" stroke="#000" stroke-width="0.6"/>
<line x1="302.62" y1="210.30" x2="302.62" y2="211.60" stroke="#000" stroke-width="0.6"/>
<line x1="303.10" y1="210.30" x2="303.10" y2="212.50" stroke="#000" stroke-width="0.9"/>
<line x1="306.23" y1="210.30" x2="306.23" y2="211.60" stroke="#000" stroke-width="0.6"/>
<line x1="308.06" y1="210.30" x2="308.06" y2="211.60" stroke="#000" stroke-width="0.6"/>
<line x1="309.36" y1="210.30" x2="309.36" y2="211.60" stroke="#000" stroke-width="0.6"/>
<line x1="310.37" y1="210.30" x2="310.37" y2="211.60" stroke="#000" stroke-width="0.6"/>
<line x1="311.19" y1="210.30" x2="311.19" y2="211.60" stroke="#000" stroke-width="0.6"/>
<line x1="311.89" y1="210.30" x2="311.89" y2="211.60" stroke="#000" stroke-width="0.6"/>
<line x1="312.49" y1="210.30" x2="312.49" y2="211.60" stroke="#000" stroke-width="0.6"/>
<line x1="313.02" y1="210.30" x2="313.02" y2="211.60" stroke="#000" stroke-width="0.6"/>
<line x1="313.50" y1="210.30" x2="313.50" y2="212.50" stroke="#000" stroke-width="0.9"/>
<line x1="316.63" y1="210.30" x2="316.63" y2="211.60" stroke="#000" stroke-width="0.6"/>
<line x1="318.46" y1="210.30" x2="318.46" y2="211.60" stroke="#000" stroke-width="0.6"/>
<line x1="319.76" y1="210.30" x2="319.76" y2="211.60" stroke="#000" stroke-width="0.6"/>
<line x1="320.77" y1="210.30" x2="320.77" y2="211.60" stroke="#000" stroke-width="0.6"/>
<line x1="321.59" y1="210.30" x2="321.59" y2="211.60" stroke="#000" stroke-width="0.6"/>
<line x1="322.29" y1="210.30" x2="322.29" y2="211.60" stroke="#000" stroke-width="0.6"/>
<line x1="322.89" y1="210.30" x2="322.89" y2="211.60" stroke="#000" stroke-width="0.6"/>
<line x1="323.42" y1="210.30" x2="323.42" y2="211.60" stroke="#000" stroke-width="0.6"/>
<line x1="323.90" y1="210.30" x2="323.90" y2="212.50" stroke="#000" stroke-width="0.9"/>
<line x1="327.03" y1="210.30" x2="327.03" y2="211.60" stroke="#000" stroke-width="0.6"/>
<line x1="328.86" y1="210.30" x2="328.86" y2="211.60" stroke="#000" stroke-width="0.6"/>
<line x1="330.16" y1="210.30" x2="330.16" y2="211.60" stroke="#000" stroke-width="0.6"/>
<line x1="331.17" y1="210.30" x2="331.17" y2="211.60" stroke="#000" stroke-width="0.6"/>
<line x1="331.99" y1="210.30" x2="331.99" y2="211.60" stroke="#000" stroke-width="0.6"/>
<line x1="332.69" y1="210.30" x2="332.69" y2="211.60" stroke="#000" stroke-width="0.6"/>
<line x1="333.29" y1="210.30" x2="333.29" y2="211.60" stroke="#000" stroke-width="0.6"/>
<line x1="333.82" y1="210.30" x2="333.82" y2="211.60" stroke="#000" stroke-width="0.6"/>
<line x1="334.30" y1="210.30" x2="334.30" y2="212.50" stroke="#000" stroke-width="0.9"/>
<line x1="337.43" y1="210.30" x2="337.43" y2="211.60" stroke="#000" stroke-width="0.6"/>
<line x1="339.26" y1="210.30" x2="339.26" y2="211.60" stroke="#000" stroke-width="0.6"/>
<line x1="340.56" y1="210.30" x2="340.56" y2="211.60" stroke="#000" stroke-width="0.6"/>
<line x1="341.57" y1="210.30" x2="341.57" y2="211.60" stroke="#000" stroke-width="0.6"/>
<line x1="342.39" y1="210.30" x2="342.39" y2="211.60" stroke="#000" stroke-width="0.6"/>
<line x1="343.09" y1="210.30" x2="343.09" y2="211.60" stroke="#000" stroke-width="0.6"/>
<line x1="343.69" y1="210.30" x2="343.69" y2="211.60" stroke="#000" stroke-width="0.6"/>
<line x1="344.22" y1="210.30" x2="344.22" y2="211.60" stroke="#000" stroke-width="0.6"/>
<line x1="344.70" y1="210.30" x2="344.70" y2="212.50" stroke="#000" stroke-width="0.9"/>
<polygon points="313.60,179.40 330.00,177.60 330.00,183.50 313.60,186.80" fill="#c4c4c4" opacity="0.45"/><circle cx="321.04" cy="180.72" r="0.67" fill="#707070" opacity="0.42"/><circle cx="322.24" cy="179.79" r="0.41" fill="#707070" opacity="0.31"/><circle cx="314.43" cy="179.46" r="0.46" fill="#707070" opacity="0.50"/><circle cx="326.06" cy="180.27" r="0.41" fill="#707070" opacity="0.32"/><circle cx="325.62" cy="182.67" r="0.52" fill="#707070" opacity="0.27"/><circle cx="328.93" cy="178.58" r="0.50" fill="#707070" opacity="0.33"/><circle cx="320.05" cy="182.26" r="0.69" fill="#707070" opacity="0.47"/><circle cx="319.22" cy="185.26" r="0.57" fill="#707070" opacity="0.49"/><circle cx="320.24" cy="180.80" r="0.40" fill="#707070" opacity="0.34"/><circle cx="314.76" cy="184.42" r="0.41" fill="#707070" opacity="0.48"/><circle cx="314.99" cy="185.34" r="0.58" fill="#707070" opacity="0.60"/><circle cx="318.22" cy="179.83" r="0.51" fill="#707070" opacity="0.42"/><circle cx="316.18" cy="181.70" r="0.69" fill="#707070" opacity="0.46"/><circle cx="329.55" cy="182.63" r="0.69" fill="#707070" opacity="0.21"/><circle cx="318.68" cy="180.88" r="0.48" fill="#707070" opacity="0.36"/><circle cx="321.38" cy="182.23" r="0.53" fill="#707070" opacity="0.35"/><circle cx="313.68" cy="180.03" r="0.49" fill="#707070" opacity="0.47"/><circle cx="318.59" cy="179.74" r="0.54" fill="#707070" opacity="0.48"/><circle cx="325.91" cy="183.65" r="0.66" fill="#707070" opacity="0.37"/><circle cx="319.99" cy="180.60" r="0.40" fill="#707070" opacity="0.53"/><circle cx="325.48" cy="183.52" r="0.64" fill="#707070" opacity="0.24"/><circle cx="328.23" cy="183.37" r="0.63" fill="#707070" opacity="0.33"/><circle cx="315.88" cy="182.42" r="0.64" fill="#707070" opacity="0.51"/><circle cx="324.80" cy="183.98" r="0.36" fill="#707070" opacity="0.29"/><circle cx="315.78" cy="180.92" r="0.64" fill="#707070" opacity="0.43"/><circle cx="322.76" cy="183.38" r="0.59" fill="#707070" opacity="0.41"/><circle cx="321.85" cy="182.52" r="0.37" fill="#707070" opacity="0.43"/><circle cx="325.68" cy="179.92" r="0.44" fill="#707070" opacity="0.24"/><circle cx="325.56" cy="179.49" r="0.69" fill="#707070" opacity="0.38"/><circle cx="321.70" cy="181.12" r="0.59" fill="#707070" opacity="0.40"/><circle cx="326.18" cy="183.28" r="0.38" fill="#707070" opacity="0.35"/><circle cx="316.02" cy="179.94" r="0.46" fill="#707070" opacity="0.55"/><circle cx="314.59" cy="180.07" r="0.59" fill="#707070" opacity="0.57"/><circle cx="324.68" cy="180.28" r="0.51" fill="#707070" opacity="0.35"/><circle cx="321.25" cy="178.69" r="0.42" fill="#707070" opacity="0.49"/><circle cx="313.89" cy="181.82" r="0.69" fill="#707070" opacity="0.61"/><circle cx="320.97" cy="180.07" r="0.68" fill="#707070" opacity="0.36"/><circle cx="317.06" cy="182.95" r="0.53" fill="#707070" opacity="0.42"/><circle cx="329.22" cy="178.82" r="0.53" fill="#707070" opacity="0.33"/><circle cx="317.39" cy="185.86" r="0.36" fill="#707070" opacity="0.48"/><circle cx="313.66" cy="182.12" r="0.46" fill="#707070" opacity="0.54"/><circle cx="315.91" cy="180.76" r="0.64" fill="#707070" opacity="0.47"/><circle cx="313.63" cy="184.51" r="0.39" fill="#707070" opacity="0.62"/><circle cx="328.39" cy="180.27" r="0.49" fill="#707070" opacity="0.25"/><circle cx="329.98" cy="183.02" r="0.50" fill="#707070" opacity="0.22"/><circle cx="315.27" cy="185.28" r="0.68" fill="#707070" opacity="0.48"/><circle cx="317.69" cy="180.04" r="0.42" fill="#707070" opacity="0.48"/><circle cx="329.03" cy="182.65" r="0.37" fill="#707070" opacity="0.31"/><circle cx="325.61" cy="181.75" r="0.58" fill="#707070" opacity="0.38"/><circle cx="328.80" cy="178.77" r="0.47" fill="#707070" opacity="0.27"/><circle cx="318.48" cy="184.40" r="0.44" fill="#707070" opacity="0.56"/><circle cx="324.36" cy="180.37" r="0.49" fill="#707070" opacity="0.36"/><circle cx="317.01" cy="185.93" r="0.43" fill="#707070" opacity="0.49"/><circle cx="320.98" cy="178.88" r="0.38" fill="#707070" opacity="0.35"/><circle cx="317.52" cy="179.98" r="0.66" fill="#707070" opacity="0.49"/><circle cx="325.89" cy="181.40" r="0.53" fill="#707070" opacity="0.31"/><circle cx="319.78" cy="180.71" r="0.45" fill="#707070" opacity="0.35"/><circle cx="329.47" cy="178.76" r="0.57" fill="#707070" opacity="0.26"/><circle cx="327.75" cy="179.59" r="0.44" fill="#707070" opacity="0.25"/><circle cx="320.16" cy="181.70" r="0.65" fill="#707070" opacity="0.52"/><circle cx="314.13" cy="184.13" r="0.52" fill="#707070" opacity="0.62"/><circle cx="329.54" cy="179.89" r="0.40" fill="#707070" opacity="0.18"/><circle cx="322.17" cy="183.88" r="0.60" fill="#707070" opacity="0.48"/><circle cx="324.22" cy="184.64" r="0.54" fill="#707070" opacity="0.35"/><circle cx="314.25" cy="184.80" r="0.67" fill="#707070" opacity="0.48"/><circle cx="324.19" cy="180.39" r="0.44" fill="#707070" opacity="0.28"/><circle cx="324.04" cy="184.03" r="0.37" fill="#707070" opacity="0.28"/><circle cx="322.20" cy="182.96" r="0.43" fill="#707070" opacity="0.37"/><circle cx="318.54" cy="181.84" r="0.58" fill="#707070" opacity="0.55"/><circle cx="328.09" cy="181.97" r="0.44" fill="#707070" opacity="0.23"/><circle cx="321.77" cy="183.81" r="0.44" fill="#707070" opacity="0.38"/><circle cx="319.14" cy="181.47" r="0.42" fill="#707070" opacity="0.49"/><circle cx="321.88" cy="179.49" r="0.46" fill="#707070" opacity="0.49"/><circle cx="327.05" cy="179.72" r="0.62" fill="#707070" opacity="0.25"/><circle cx="321.73" cy="179.32" r="0.50" fill="#707070" opacity="0.35"/><circle cx="316.00" cy="181.22" r="0.69" fill="#707070" opacity="0.45"/><circle cx="314.59" cy="181.22" r="0.66" fill="#707070" opacity="0.61"/><circle cx="328.88" cy="180.63" r="0.68" fill="#707070" opacity="0.21"/><circle cx="324.50" cy="181.08" r="0.47" fill="#707070" opacity="0.33"/><circle cx="318.19" cy="180.83" r="0.39" fill="#707070" opacity="0.56"/><circle cx="329.41" cy="179.51" r="0.64" fill="#707070" opacity="0.23"/><circle cx="327.08" cy="181.58" r="0.52" fill="#707070" opacity="0.21"/><circle cx="316.77" cy="180.95" r="0.36" fill="#707070" opacity="0.57"/><circle cx="320.34" cy="185.07" r="0.36" fill="#707070" opacity="0.48"/><circle cx="328.69" cy="179.96" r="0.66" fill="#707070" opacity="0.32"/><circle cx="319.16" cy="180.11" r="0.57" fill="#707070" opacity="0.54"/><circle cx="317.90" cy="184.19" r="0.45" fill="#707070" opacity="0.43"/><circle cx="313.66" cy="184.55" r="0.57" fill="#707070" opacity="0.63"/><circle cx="329.07" cy="177.82" r="0.52" fill="#707070" opacity="0.21"/><circle cx="319.94" cy="179.91" r="0.52" fill="#707070" opacity="0.42"/><circle cx="328.82" cy="179.28" r="0.61" fill="#707070" opacity="0.33"/><circle cx="323.56" cy="180.62" r="0.48" fill="#707070" opacity="0.33"/><circle cx="326.43" cy="178.33" r="0.61" fill="#707070" opacity="0.25"/><circle cx="314.16" cy="182.68" r="0.69" fill="#707070" opacity="0.50"/><circle cx="315.18" cy="182.19" r="0.51" fill="#707070" opacity="0.56"/><circle cx="317.44" cy="181.43" r="0.59" fill="#707070" opacity="0.50"/><circle cx="324.50" cy="178.71" r="0.45" fill="#707070" opacity="0.42"/><circle cx="322.90" cy="181.03" r="0.42" fill="#707070" opacity="0.43"/><line x1="309.9" y1="194.4" x2="312.6" y2="181.6" stroke="#7a7a7a" stroke-width="2.6" stroke-linecap="round" opacity="0.8"/>
<line x1="313.50" y1="156.60" x2="313.50" y2="210.30" stroke="#555" stroke-width="1.0"/>
<line x1="292.70" y1="189.50" x2="346.60" y2="189.50" stroke="#555" stroke-width="1.0"/>
<rect x="292.70" y="156.60" width="53.90" height="53.70" fill="none" stroke="#000" stroke-width="1.1"/>
<text x="295.90" y="164.80" font-size="6.3" text-anchor="start" font-weight="bold" fill="#111" stroke="#111" stroke-width="0.2">53</text>
<text x="342.40" y="164.80" font-size="6.3" text-anchor="end" font-weight="bold" fill="#111" stroke="#111" stroke-width="0.2">28</text>
<text x="296.40" y="207.60" font-size="6.3" text-anchor="start" font-weight="bold" fill="#111" stroke="#111" stroke-width="0.2">19</text>
<line x1="290.50" y1="273.10" x2="292.90" y2="273.10" stroke="#000" stroke-width="0.9"/>
<line x1="291.50" y1="269.16" x2="292.90" y2="269.16" stroke="#000" stroke-width="0.6"/>
<line x1="291.50" y1="266.85" x2="292.90" y2="266.85" stroke="#000" stroke-width="0.6"/>
<line x1="291.50" y1="265.21" x2="292.90" y2="265.21" stroke="#000" stroke-width="0.6"/>
<line x1="291.50" y1="263.94" x2="292.90" y2="263.94" stroke="#000" stroke-width="0.6"/>
<line x1="291.50" y1="262.91" x2="292.90" y2="262.91" stroke="#000" stroke-width="0.6"/>
<line x1="291.50" y1="262.03" x2="292.90" y2="262.03" stroke="#000" stroke-width="0.6"/>
<line x1="291.50" y1="261.27" x2="292.90" y2="261.27" stroke="#000" stroke-width="0.6"/>
<line x1="291.50" y1="260.60" x2="292.90" y2="260.60" stroke="#000" stroke-width="0.6"/>
<line x1="290.50" y1="260.00" x2="292.90" y2="260.00" stroke="#000" stroke-width="0.9"/>
<line x1="291.50" y1="256.06" x2="292.90" y2="256.06" stroke="#000" stroke-width="0.6"/>
<line x1="291.50" y1="253.75" x2="292.90" y2="253.75" stroke="#000" stroke-width="0.6"/>
<line x1="291.50" y1="252.11" x2="292.90" y2="252.11" stroke="#000" stroke-width="0.6"/>
<line x1="291.50" y1="250.84" x2="292.90" y2="250.84" stroke="#000" stroke-width="0.6"/>
<line x1="291.50" y1="249.81" x2="292.90" y2="249.81" stroke="#000" stroke-width="0.6"/>
<line x1="291.50" y1="248.93" x2="292.90" y2="248.93" stroke="#000" stroke-width="0.6"/>
<line x1="291.50" y1="248.17" x2="292.90" y2="248.17" stroke="#000" stroke-width="0.6"/>
<line x1="291.50" y1="247.50" x2="292.90" y2="247.50" stroke="#000" stroke-width="0.6"/>
<line x1="290.50" y1="246.90" x2="292.90" y2="246.90" stroke="#000" stroke-width="0.9"/>
<line x1="291.50" y1="242.96" x2="292.90" y2="242.96" stroke="#000" stroke-width="0.6"/>
<line x1="291.50" y1="240.65" x2="292.90" y2="240.65" stroke="#000" stroke-width="0.6"/>
<line x1="291.50" y1="239.01" x2="292.90" y2="239.01" stroke="#000" stroke-width="0.6"/>
<line x1="291.50" y1="237.74" x2="292.90" y2="237.74" stroke="#000" stroke-width="0.6"/>
<line x1="291.50" y1="236.71" x2="292.90" y2="236.71" stroke="#000" stroke-width="0.6"/>
<line x1="291.50" y1="235.83" x2="292.90" y2="235.83" stroke="#000" stroke-width="0.6"/>
<line x1="291.50" y1="235.07" x2="292.90" y2="235.07" stroke="#000" stroke-width="0.6"/>
<line x1="291.50" y1="234.40" x2="292.90" y2="234.40" stroke="#000" stroke-width="0.6"/>
<line x1="290.50" y1="233.80" x2="292.90" y2="233.80" stroke="#000" stroke-width="0.9"/>
<line x1="291.50" y1="229.86" x2="292.90" y2="229.86" stroke="#000" stroke-width="0.6"/>
<line x1="291.50" y1="227.55" x2="292.90" y2="227.55" stroke="#000" stroke-width="0.6"/>
<line x1="291.50" y1="225.91" x2="292.90" y2="225.91" stroke="#000" stroke-width="0.6"/>
<line x1="291.50" y1="224.64" x2="292.90" y2="224.64" stroke="#000" stroke-width="0.6"/>
<line x1="291.50" y1="223.61" x2="292.90" y2="223.61" stroke="#000" stroke-width="0.6"/>
<line x1="291.50" y1="222.73" x2="292.90" y2="222.73" stroke="#000" stroke-width="0.6"/>
<line x1="291.50" y1="221.97" x2="292.90" y2="221.97" stroke="#000" stroke-width="0.6"/>
<line x1="291.50" y1="221.30" x2="292.90" y2="221.30" stroke="#000" stroke-width="0.6"/>
<line x1="290.50" y1="220.70" x2="292.90" y2="220.70" stroke="#000" stroke-width="0.9"/>
<line x1="292.90" y1="274.30" x2="292.90" y2="276.50" stroke="#000" stroke-width="0.9"/>
<line x1="296.03" y1="274.30" x2="296.03" y2="275.60" stroke="#000" stroke-width="0.6"/>
<line x1="297.86" y1="274.30" x2="297.86" y2="275.60" stroke="#000" stroke-width="0.6"/>
<line x1="299.16" y1="274.30" x2="299.16" y2="275.60" stroke="#000" stroke-width="0.6"/>
<line x1="300.17" y1="274.30" x2="300.17" y2="275.60" stroke="#000" stroke-width="0.6"/>
<line x1="300.99" y1="274.30" x2="300.99" y2="275.60" stroke="#000" stroke-width="0.6"/>
<line x1="301.69" y1="274.30" x2="301.69" y2="275.60" stroke="#000" stroke-width="0.6"/>
<line x1="302.29" y1="274.30" x2="302.29" y2="275.60" stroke="#000" stroke-width="0.6"/>
<line x1="302.82" y1="274.30" x2="302.82" y2="275.60" stroke="#000" stroke-width="0.6"/>
<line x1="303.30" y1="274.30" x2="303.30" y2="276.50" stroke="#000" stroke-width="0.9"/>
<line x1="306.43" y1="274.30" x2="306.43" y2="275.60" stroke="#000" stroke-width="0.6"/>
<line x1="308.26" y1="274.30" x2="308.26" y2="275.60" stroke="#000" stroke-width="0.6"/>
<line x1="309.56" y1="274.30" x2="309.56" y2="275.60" stroke="#000" stroke-width="0.6"/>
<line x1="310.57" y1="274.30" x2="310.57" y2="275.60" stroke="#000" stroke-width="0.6"/>
<line x1="311.39" y1="274.30" x2="311.39" y2="275.60" stroke="#000" stroke-width="0.6"/>
<line x1="312.09" y1="274.30" x2="312.09" y2="275.60" stroke="#000" stroke-width="0.6"/>
<line x1="312.69" y1="274.30" x2="312.69" y2="275.60" stroke="#000" stroke-width="0.6"/>
<line x1="313.22" y1="274.30" x2="313.22" y2="275.60" stroke="#000" stroke-width="0.6"/>
<line x1="313.70" y1="274.30" x2="313.70" y2="276.50" stroke="#000" stroke-width="0.9"/>
<line x1="316.83" y1="274.30" x2="316.83" y2="275.60" stroke="#000" stroke-width="0.6"/>
<line x1="318.66" y1="274.30" x2="318.66" y2="275.60" stroke="#000" stroke-width="0.6"/>
<line x1="319.96" y1="274.30" x2="319.96" y2="275.60" stroke="#000" stroke-width="0.6"/>
<line x1="320.97" y1="274.30" x2="320.97" y2="275.60" stroke="#000" stroke-width="0.6"/>
<line x1="321.79" y1="274.30" x2="321.79" y2="275.60" stroke="#000" stroke-width="0.6"/>
<line x1="322.49" y1="274.30" x2="322.49" y2="275.60" stroke="#000" stroke-width="0.6"/>
<line x1="323.09" y1="274.30" x2="323.09" y2="275.60" stroke="#000" stroke-width="0.6"/>
<line x1="323.62" y1="274.30" x2="323.62" y2="275.60" stroke="#000" stroke-width="0.6"/>
<line x1="324.10" y1="274.30" x2="324.10" y2="276.50" stroke="#000" stroke-width="0.9"/>
<line x1="327.23" y1="274.30" x2="327.23" y2="275.60" stroke="#000" stroke-width="0.6"/>
<line x1="329.06" y1="274.30" x2="329.06" y2="275.60" stroke="#000" stroke-width="0.6"/>
<line x1="330.36" y1="274.30" x2="330.36" y2="275.60" stroke="#000" stroke-width="0.6"/>
<line x1="331.37" y1="274.30" x2="331.37" y2="275.60" stroke="#000" stroke-width="0.6"/>
<line x1="332.19" y1="274.30" x2="332.19" y2="275.60" stroke="#000" stroke-width="0.6"/>
<line x1="332.89" y1="274.30" x2="332.89" y2="275.60" stroke="#000" stroke-width="0.6"/>
<line x1="333.49" y1="274.30" x2="333.49" y2="275.60" stroke="#000" stroke-width="0.6"/>
<line x1="334.02" y1="274.30" x2="334.02" y2="275.60" stroke="#000" stroke-width="0.6"/>
<line x1="334.50" y1="274.30" x2="334.50" y2="276.50" stroke="#000" stroke-width="0.9"/>
<line x1="337.63" y1="274.30" x2="337.63" y2="275.60" stroke="#000" stroke-width="0.6"/>
<line x1="339.46" y1="274.30" x2="339.46" y2="275.60" stroke="#000" stroke-width="0.6"/>
<line x1="340.76" y1="274.30" x2="340.76" y2="275.60" stroke="#000" stroke-width="0.6"/>
<line x1="341.77" y1="274.30" x2="341.77" y2="275.60" stroke="#000" stroke-width="0.6"/>
<line x1="342.59" y1="274.30" x2="342.59" y2="275.60" stroke="#000" stroke-width="0.6"/>
<line x1="343.29" y1="274.30" x2="343.29" y2="275.60" stroke="#000" stroke-width="0.6"/>
<line x1="343.89" y1="274.30" x2="343.89" y2="275.60" stroke="#000" stroke-width="0.6"/>
<line x1="344.42" y1="274.30" x2="344.42" y2="275.60" stroke="#000" stroke-width="0.6"/>
<line x1="344.90" y1="274.30" x2="344.90" y2="276.50" stroke="#000" stroke-width="0.9"/>
<polygon points="310.80,249.00 322.00,247.20 330.00,245.80 330.00,250.50 320.00,253.20 310.80,253.50" fill="#c4c4c4" opacity="0.45"/><circle cx="313.74" cy="252.61" r="0.46" fill="#707070" opacity="0.52"/><circle cx="320.54" cy="247.58" r="0.58" fill="#707070" opacity="0.46"/><circle cx="329.83" cy="246.59" r="0.64" fill="#707070" opacity="0.25"/><circle cx="329.48" cy="250.29" r="0.48" fill="#707070" opacity="0.34"/><circle cx="327.43" cy="249.26" r="0.62" fill="#707070" opacity="0.24"/><circle cx="328.96" cy="246.61" r="0.57" fill="#707070" opacity="0.29"/><circle cx="314.98" cy="248.64" r="0.42" fill="#707070" opacity="0.41"/><circle cx="315.69" cy="250.42" r="0.42" fill="#707070" opacity="0.50"/><circle cx="323.82" cy="247.23" r="0.42" fill="#707070" opacity="0.31"/><circle cx="326.07" cy="250.02" r="0.39" fill="#707070" opacity="0.22"/><circle cx="318.39" cy="250.04" r="0.38" fill="#707070" opacity="0.46"/><circle cx="313.94" cy="251.15" r="0.45" fill="#707070" opacity="0.48"/><circle cx="316.71" cy="253.14" r="0.55" fill="#707070" opacity="0.42"/><circle cx="317.66" cy="249.01" r="0.70" fill="#707070" opacity="0.52"/><circle cx="324.78" cy="247.37" r="0.67" fill="#707070" opacity="0.23"/><circle cx="318.94" cy="252.12" r="0.66" fill="#707070" opacity="0.40"/><circle cx="311.08" cy="250.05" r="0.67" fill="#707070" opacity="0.57"/><circle cx="312.51" cy="250.59" r="0.53" fill="#707070" opacity="0.50"/><circle cx="320.81" cy="252.93" r="0.52" fill="#707070" opacity="0.32"/><circle cx="328.58" cy="248.79" r="0.57" fill="#707070" opacity="0.35"/><circle cx="326.63" cy="247.03" r="0.43" fill="#707070" opacity="0.36"/><circle cx="318.57" cy="252.32" r="0.41" fill="#707070" opacity="0.49"/><circle cx="314.99" cy="248.88" r="0.48" fill="#707070" opacity="0.49"/><circle cx="311.59" cy="250.13" r="0.36" fill="#707070" opacity="0.59"/><circle cx="326.89" cy="246.71" r="0.54" fill="#707070" opacity="0.32"/><circle cx="322.84" cy="248.16" r="0.55" fill="#707070" opacity="0.35"/><circle cx="318.97" cy="250.87" r="0.50" fill="#707070" opacity="0.41"/><circle cx="311.25" cy="250.57" r="0.43" fill="#707070" opacity="0.54"/><circle cx="313.27" cy="249.12" r="0.50" fill="#707070" opacity="0.43"/><circle cx="324.88" cy="251.79" r="0.37" fill="#707070" opacity="0.33"/><circle cx="320.48" cy="248.71" r="0.40" fill="#707070" opacity="0.49"/><circle cx="314.52" cy="253.36" r="0.68" fill="#707070" opacity="0.49"/><circle cx="328.39" cy="247.07" r="0.68" fill="#707070" opacity="0.33"/><circle cx="325.32" cy="247.02" r="0.45" fill="#707070" opacity="0.40"/><circle cx="326.46" cy="246.91" r="0.67" fill="#707070" opacity="0.31"/><circle cx="320.52" cy="248.26" r="0.41" fill="#707070" opacity="0.31"/><circle cx="313.90" cy="253.01" r="0.66" fill="#707070" opacity="0.54"/><circle cx="314.04" cy="251.84" r="0.54" fill="#707070" opacity="0.42"/><circle cx="323.02" cy="248.57" r="0.54" fill="#707070" opacity="0.43"/><circle cx="321.94" cy="252.60" r="0.70" fill="#707070" opacity="0.30"/><circle cx="322.89" cy="248.84" r="0.44" fill="#707070" opacity="0.42"/><circle cx="329.82" cy="250.25" r="0.62" fill="#707070" opacity="0.22"/><circle cx="326.54" cy="247.75" r="0.69" fill="#707070" opacity="0.33"/><circle cx="322.05" cy="250.91" r="0.35" fill="#707070" opacity="0.34"/><circle cx="322.63" cy="249.13" r="0.66" fill="#707070" opacity="0.37"/><circle cx="315.11" cy="250.29" r="0.42" fill="#707070" opacity="0.50"/><circle cx="322.78" cy="249.46" r="0.68" fill="#707070" opacity="0.29"/><circle cx="312.64" cy="250.71" r="0.62" fill="#707070" opacity="0.60"/><circle cx="318.52" cy="247.83" r="0.58" fill="#707070" opacity="0.33"/><circle cx="321.60" cy="248.50" r="0.51" fill="#707070" opacity="0.41"/><circle cx="315.57" cy="252.76" r="0.54" fill="#707070" opacity="0.38"/><circle cx="311.92" cy="251.80" r="0.54" fill="#707070" opacity="0.43"/><circle cx="328.87" cy="246.90" r="0.56" fill="#707070" opacity="0.21"/><circle cx="320.53" cy="250.74" r="0.41" fill="#707070" opacity="0.46"/><circle cx="316.74" cy="248.11" r="0.66" fill="#707070" opacity="0.37"/><circle cx="325.83" cy="251.31" r="0.65" fill="#707070" opacity="0.22"/><circle cx="325.11" cy="249.38" r="0.51" fill="#707070" opacity="0.37"/><circle cx="317.24" cy="251.57" r="0.65" fill="#707070" opacity="0.49"/><circle cx="324.46" cy="247.85" r="0.50" fill="#707070" opacity="0.35"/><circle cx="325.94" cy="249.83" r="0.57" fill="#707070" opacity="0.27"/><circle cx="329.33" cy="247.47" r="0.36" fill="#707070" opacity="0.34"/><circle cx="325.13" cy="248.32" r="0.46" fill="#707070" opacity="0.40"/><circle cx="315.39" cy="252.79" r="0.59" fill="#707070" opacity="0.50"/><circle cx="319.81" cy="252.27" r="0.65" fill="#707070" opacity="0.45"/><circle cx="319.19" cy="251.38" r="0.46" fill="#707070" opacity="0.43"/><circle cx="314.87" cy="250.59" r="0.67" fill="#707070" opacity="0.40"/><circle cx="312.85" cy="252.95" r="0.40" fill="#707070" opacity="0.49"/><circle cx="324.10" cy="250.68" r="0.61" fill="#707070" opacity="0.38"/><circle cx="312.06" cy="250.35" r="0.64" fill="#707070" opacity="0.50"/><circle cx="312.07" cy="252.48" r="0.68" fill="#707070" opacity="0.61"/><circle cx="322.98" cy="252.15" r="0.45" fill="#707070" opacity="0.39"/><circle cx="325.34" cy="247.38" r="0.50" fill="#707070" opacity="0.29"/><circle cx="316.23" cy="251.31" r="0.46" fill="#707070" opacity="0.44"/><circle cx="329.31" cy="249.68" r="0.57" fill="#707070" opacity="0.33"/><circle cx="311.39" cy="248.98" r="0.62" fill="#707070" opacity="0.53"/><circle cx="317.46" cy="251.23" r="0.43" fill="#707070" opacity="0.45"/><circle cx="327.35" cy="246.50" r="0.41" fill="#707070" opacity="0.36"/><circle cx="310.88" cy="249.58" r="0.63" fill="#707070" opacity="0.55"/><circle cx="314.34" cy="249.61" r="0.64" fill="#707070" opacity="0.46"/><circle cx="315.80" cy="253.07" r="0.43" fill="#707070" opacity="0.43"/><circle cx="324.23" cy="249.64" r="0.57" fill="#707070" opacity="0.26"/><circle cx="312.35" cy="251.87" r="0.63" fill="#707070" opacity="0.57"/><circle cx="322.86" cy="248.54" r="0.49" fill="#707070" opacity="0.34"/><circle cx="327.90" cy="246.46" r="0.36" fill="#707070" opacity="0.36"/><circle cx="328.10" cy="249.66" r="0.66" fill="#707070" opacity="0.26"/><circle cx="315.28" cy="249.35" r="0.61" fill="#707070" opacity="0.49"/><circle cx="325.26" cy="250.78" r="0.46" fill="#707070" opacity="0.29"/><circle cx="313.78" cy="252.29" r="0.61" fill="#707070" opacity="0.54"/><polygon points="310.80,249.60 318.00,248.50 318.00,253.30 310.80,253.50" fill="#8a8a8a" opacity="0.35"/><line x1="310.3" y1="258.6" x2="311.6" y2="254.6" stroke="#7a7a7a" stroke-width="2.0" stroke-linecap="round" opacity="0.8"/>
<line x1="313.50" y1="220.20" x2="313.50" y2="274.30" stroke="#555" stroke-width="1.0"/>
<line x1="292.90" y1="254.50" x2="347.30" y2="254.50" stroke="#555" stroke-width="1.0"/>
<rect x="292.90" y="220.20" width="54.40" height="54.10" fill="none" stroke="#000" stroke-width="1.1"/>
<text x="296.20" y="229.30" font-size="6.3" text-anchor="start" font-weight="bold" fill="#111" stroke="#111" stroke-width="0.2">29</text>
<text x="342.80" y="229.30" font-size="6.3" text-anchor="end" font-weight="bold" fill="#111" stroke="#111" stroke-width="0.2">21</text>
<text x="296.20" y="272.00" font-size="6.3" text-anchor="start" font-weight="bold" fill="#111" stroke="#111" stroke-width="0.2">50</text>
<text x="14.40" y="183.40" font-size="8.4" text-anchor="middle" font-weight="normal" fill="#222" stroke="#222" stroke-width="0.2" transform="rotate(-90 14.40 183.40)" textLength="27" lengthAdjust="spacingAndGlyphs">Control</text>
<text x="14.20" y="246.40" font-size="8.6" text-anchor="middle" font-weight="normal" fill="#222" stroke="#222" stroke-width="0.2" transform="rotate(-90 14.20 246.40)" textLength="58" lengthAdjust="spacingAndGlyphs">G12D/+; p53-/-</text>
<text x="23.20" y="265.60" font-size="8.6" text-anchor="middle" font-weight="normal" fill="#222" stroke="#222" stroke-width="0.2" transform="rotate(-90 23.20 265.60)" textLength="15" lengthAdjust="spacingAndGlyphs">Ki67</text>
<line x1="21.50" y1="253.00" x2="21.50" y2="168.00" stroke="#000" stroke-width="0.9"/>
<path d="M18.30,170.60 L21.80,162.40 L25.30,170.60 L21.80,169.40 Z" fill="#000"/>
<text x="33.20" y="286.00" font-size="10.0" text-anchor="start" font-weight="normal" fill="#222" stroke="#222" stroke-width="0.2" textLength="16.7" lengthAdjust="spacingAndGlyphs">DAPI</text>
<line x1="52.80" y1="283.50" x2="75.20" y2="283.50" stroke="#000" stroke-width="1.0"/>
<path d="M73.60,280.60 L81.30,283.20 L73.60,285.80 L74.80,283.20 Z" fill="#000"/>
<text x="273.00" y="183.40" font-size="8.4" text-anchor="middle" font-weight="normal" fill="#222" stroke="#222" stroke-width="0.2" transform="rotate(-90 273.00 183.40)" textLength="27" lengthAdjust="spacingAndGlyphs">Control</text>
<text x="274.00" y="246.40" font-size="8.6" text-anchor="middle" font-weight="normal" fill="#222" stroke="#222" stroke-width="0.2" transform="rotate(-90 274.00 246.40)" textLength="58" lengthAdjust="spacingAndGlyphs">G12D/+; p53-/-</text>
<text x="282.60" y="265.60" font-size="8.6" text-anchor="middle" font-weight="normal" fill="#222" stroke="#222" stroke-width="0.2" transform="rotate(-90 282.60 265.60)" textLength="15" lengthAdjust="spacingAndGlyphs">Ki67</text>
<line x1="281.50" y1="253.00" x2="281.50" y2="168.00" stroke="#000" stroke-width="0.9"/>
<path d="M277.70,169.50 L281.20,161.30 L284.70,169.50 L281.20,168.30 Z" fill="#000"/>
<text x="293.20" y="286.00" font-size="10.0" text-anchor="start" font-weight="normal" fill="#222" stroke="#222" stroke-width="0.2" textLength="16.7" lengthAdjust="spacingAndGlyphs">DAPI</text>
<line x1="312.80" y1="283.50" x2="335.20" y2="283.50" stroke="#000" stroke-width="1.0"/>
<path d="M333.60,280.60 L341.30,283.20 L333.60,285.80 L334.80,283.20 Z" fill="#000"/>
<text x="190.40" y="163.50" font-size="8.6" text-anchor="middle" font-weight="bold" fill="#000" stroke="#000" stroke-width="0.2">GMP cell cycle</text>
<line x1="126.50" y1="176.40" x2="126.50" y2="263.00" stroke="#111" stroke-width="1.5"/>
<line x1="123.60" y1="262.50" x2="126.60" y2="262.50" stroke="#111" stroke-width="1.5"/>
<text x="121.00" y="265.20" font-size="6.4" text-anchor="end" font-weight="normal" fill="#1a1a1a" stroke="#1a1a1a" stroke-width="0.2">0</text>
<line x1="123.60" y1="241.50" x2="126.60" y2="241.50" stroke="#111" stroke-width="1.5"/>
<text x="121.00" y="244.45" font-size="6.4" text-anchor="end" font-weight="normal" fill="#1a1a1a" stroke="#1a1a1a" stroke-width="0.2">20</text>
<line x1="123.60" y1="220.50" x2="126.60" y2="220.50" stroke="#111" stroke-width="1.5"/>
<text x="121.00" y="223.70" font-size="6.4" text-anchor="end" font-weight="normal" fill="#1a1a1a" stroke="#1a1a1a" stroke-width="0.2">40</text>
<line x1="123.60" y1="200.50" x2="126.60" y2="200.50" stroke="#111" stroke-width="1.5"/>
<text x="121.00" y="202.95" font-size="6.4" text-anchor="end" font-weight="normal" fill="#1a1a1a" stroke="#1a1a1a" stroke-width="0.2">60</text>
<line x1="123.60" y1="179.50" x2="126.60" y2="179.50" stroke="#111" stroke-width="1.5"/>
<text x="121.00" y="182.20" font-size="6.4" text-anchor="end" font-weight="normal" fill="#1a1a1a" stroke="#1a1a1a" stroke-width="0.2">80</text>
<line x1="126.00" y1="262.50" x2="250.00" y2="262.50" stroke="#111" stroke-width="1.5"/>
<rect x="131.00" y="250.80" width="6.20" height="11.60" fill="#4f2468"/>
<rect x="140.20" y="251.30" width="6.30" height="11.10" fill="#6aaa3c"/>
<rect x="149.50" y="220.70" width="6.30" height="41.70" fill="#2c4f88"/>
<rect x="158.10" y="211.40" width="6.00" height="51.00" fill="#b1002b"/>
<line x1="134.50" y1="250.80" x2="134.50" y2="248.00" stroke="#262626" stroke-width="1.2"/>
<line x1="131.93" y1="248.50" x2="136.27" y2="248.50" stroke="#262626" stroke-width="1.2"/>
<line x1="143.50" y1="251.30" x2="143.50" y2="246.20" stroke="#262626" stroke-width="1.2"/>
<line x1="141.14" y1="246.50" x2="145.56" y2="246.50" stroke="#262626" stroke-width="1.2"/>
<line x1="152.50" y1="220.70" x2="152.50" y2="214.40" stroke="#262626" stroke-width="1.2"/>
<line x1="150.44" y1="214.50" x2="154.86" y2="214.50" stroke="#262626" stroke-width="1.2"/>
<line x1="161.50" y1="211.40" x2="161.50" y2="206.30" stroke="#262626" stroke-width="1.2"/>
<line x1="159.00" y1="206.50" x2="163.20" y2="206.50" stroke="#262626" stroke-width="1.2"/>
<rect x="172.60" y="193.70" width="5.90" height="68.70" fill="#4f2468"/>
<rect x="181.90" y="191.20" width="5.90" height="71.20" fill="#6aaa3c"/>
<rect x="190.80" y="232.60" width="6.00" height="29.80" fill="#2c4f88"/>
<rect x="199.30" y="238.00" width="6.20" height="24.40" fill="#b1002b"/>
<line x1="175.50" y1="193.70" x2="175.50" y2="187.30" stroke="#262626" stroke-width="1.2"/>
<line x1="173.49" y1="187.50" x2="177.62" y2="187.50" stroke="#262626" stroke-width="1.2"/>
<line x1="184.50" y1="191.20" x2="184.50" y2="186.60" stroke="#262626" stroke-width="1.2"/>
<line x1="182.79" y1="186.50" x2="186.92" y2="186.50" stroke="#262626" stroke-width="1.2"/>
<line x1="193.50" y1="232.60" x2="193.50" y2="228.90" stroke="#262626" stroke-width="1.2"/>
<line x1="191.70" y1="228.50" x2="195.90" y2="228.50" stroke="#262626" stroke-width="1.2"/>
<line x1="202.50" y1="238.00" x2="202.50" y2="231.70" stroke="#262626" stroke-width="1.2"/>
<line x1="200.23" y1="231.50" x2="204.57" y2="231.50" stroke="#262626" stroke-width="1.2"/>
<rect x="214.60" y="239.00" width="6.20" height="23.40" fill="#4f2468"/>
<rect x="223.20" y="240.20" width="6.20" height="22.20" fill="#6aaa3c"/>
<rect x="232.20" y="232.80" width="6.10" height="29.60" fill="#2c4f88"/>
<rect x="240.80" y="237.50" width="6.70" height="24.90" fill="#b1002b"/>
<line x1="217.50" y1="239.00" x2="217.50" y2="230.40" stroke="#262626" stroke-width="1.2"/>
<line x1="215.53" y1="230.50" x2="219.87" y2="230.50" stroke="#262626" stroke-width="1.2"/>
<line x1="235.50" y1="232.80" x2="235.50" y2="229.80" stroke="#262626" stroke-width="1.2"/>
<line x1="233.11" y1="229.50" x2="237.39" y2="229.50" stroke="#262626" stroke-width="1.2"/>
<line x1="244.50" y1="237.50" x2="244.50" y2="235.00" stroke="#262626" stroke-width="1.2"/>
<line x1="241.81" y1="235.50" x2="246.50" y2="235.50" stroke="#262626" stroke-width="1.2"/>
<line x1="147.50" y1="262.40" x2="147.50" y2="265.60" stroke="#000" stroke-width="0.9"/>
<text x="147.60" y="272.60" font-size="6.3" text-anchor="middle" font-weight="normal" fill="#1a1a1a" stroke="#1a1a1a" stroke-width="0.2">G0</text>
<line x1="189.50" y1="262.40" x2="189.50" y2="265.60" stroke="#000" stroke-width="0.9"/>
<text x="189.10" y="272.60" font-size="6.3" text-anchor="middle" font-weight="normal" fill="#1a1a1a" stroke="#1a1a1a" stroke-width="0.2">G1</text>
<line x1="231.50" y1="262.40" x2="231.50" y2="265.60" stroke="#000" stroke-width="0.9"/>
<text x="231.10" y="272.60" font-size="6.3" text-anchor="middle" font-weight="normal" fill="#1a1a1a" stroke="#1a1a1a" stroke-width="0.2">S/G2/M</text>
<text x="109.30" y="218.60" font-size="7.6" text-anchor="middle" font-weight="normal" fill="#1a1a1a" stroke="#1a1a1a" stroke-width="0.2" transform="rotate(-90 109.30 218.60)" textLength="64.8" lengthAdjust="spacingAndGlyphs">Percentage of cells</text>
<polyline points="137.50,244.50 137.50,194.50 155.50,194.50 155.50,200.50" fill="none" stroke="#111" stroke-width="1.1"/>
<line x1="132.50" y1="244.50" x2="140.80" y2="244.50" stroke="#111" stroke-width="1.1"/>
<line x1="150.00" y1="200.50" x2="160.80" y2="200.50" stroke="#111" stroke-width="1.1"/>
<circle cx="144.60" cy="190.70" r="1.1" fill="#151515"/>
<circle cx="148.00" cy="190.70" r="1.1" fill="#151515"/>
<polyline points="179.50,181.50 179.50,174.50 198.50,174.50 198.50,220.50" fill="none" stroke="#111" stroke-width="1.1"/>
<line x1="174.30" y1="181.50" x2="184.90" y2="181.50" stroke="#111" stroke-width="1.1"/>
<line x1="194.00" y1="220.50" x2="204.20" y2="220.50" stroke="#111" stroke-width="1.1"/>
<circle cx="189.10" cy="171.70" r="1.1" fill="#151515"/>
<circle cx="192.50" cy="171.70" r="1.1" fill="#151515"/>
<text x="450.00" y="163.50" font-size="8.6" text-anchor="middle" font-weight="bold" fill="#000" stroke="#000" stroke-width="0.2">MEP cell cycle</text>
<line x1="387.50" y1="176.30" x2="387.50" y2="262.60" stroke="#111" stroke-width="1.5"/>
<line x1="384.30" y1="262.50" x2="387.30" y2="262.50" stroke="#111" stroke-width="1.5"/>
<text x="381.70" y="264.80" font-size="6.4" text-anchor="end" font-weight="normal" fill="#1a1a1a" stroke="#1a1a1a" stroke-width="0.2">0</text>
<line x1="384.30" y1="241.50" x2="387.30" y2="241.50" stroke="#111" stroke-width="1.5"/>
<text x="381.70" y="244.13" font-size="6.4" text-anchor="end" font-weight="normal" fill="#1a1a1a" stroke="#1a1a1a" stroke-width="0.2">20</text>
<line x1="384.30" y1="220.50" x2="387.30" y2="220.50" stroke="#111" stroke-width="1.5"/>
<text x="381.70" y="223.45" font-size="6.4" text-anchor="end" font-weight="normal" fill="#1a1a1a" stroke="#1a1a1a" stroke-width="0.2">40</text>
<line x1="384.30" y1="199.50" x2="387.30" y2="199.50" stroke="#111" stroke-width="1.5"/>
<text x="381.70" y="202.78" font-size="6.4" text-anchor="end" font-weight="normal" fill="#1a1a1a" stroke="#1a1a1a" stroke-width="0.2">60</text>
<line x1="384.30" y1="179.50" x2="387.30" y2="179.50" stroke="#111" stroke-width="1.5"/>
<text x="381.70" y="182.10" font-size="6.4" text-anchor="end" font-weight="normal" fill="#1a1a1a" stroke="#1a1a1a" stroke-width="0.2">80</text>
<line x1="386.70" y1="262.50" x2="511.00" y2="262.50" stroke="#111" stroke-width="1.5"/>
<rect x="391.50" y="242.00" width="6.20" height="20.00" fill="#4f2468"/>
<rect x="400.40" y="234.30" width="6.20" height="27.70" fill="#6aaa3c"/>
<rect x="409.30" y="233.60" width="6.20" height="28.40" fill="#2c4f88"/>
<rect x="418.10" y="214.80" width="6.20" height="47.20" fill="#b1002b"/>
<line x1="394.50" y1="242.00" x2="394.50" y2="240.50" stroke="#262626" stroke-width="1.2"/>
<line x1="392.43" y1="240.50" x2="396.77" y2="240.50" stroke="#262626" stroke-width="1.2"/>
<line x1="403.50" y1="234.30" x2="403.50" y2="231.60" stroke="#262626" stroke-width="1.2"/>
<line x1="401.33" y1="231.50" x2="405.67" y2="231.50" stroke="#262626" stroke-width="1.2"/>
<line x1="412.50" y1="233.60" x2="412.50" y2="232.00" stroke="#262626" stroke-width="1.2"/>
<line x1="410.23" y1="232.50" x2="414.57" y2="232.50" stroke="#262626" stroke-width="1.2"/>
<line x1="421.50" y1="214.80" x2="421.50" y2="206.60" stroke="#262626" stroke-width="1.2"/>
<line x1="419.03" y1="206.50" x2="423.37" y2="206.50" stroke="#262626" stroke-width="1.2"/>
<rect x="432.80" y="200.00" width="6.00" height="62.00" fill="#4f2468"/>
<rect x="442.00" y="217.70" width="5.60" height="44.30" fill="#6aaa3c"/>
<rect x="450.50" y="213.20" width="6.00" height="48.80" fill="#2c4f88"/>
<rect x="460.00" y="228.80" width="5.90" height="33.20" fill="#b1002b"/>
<line x1="435.50" y1="200.00" x2="435.50" y2="189.50" stroke="#262626" stroke-width="1.2"/>
<line x1="433.70" y1="189.50" x2="437.90" y2="189.50" stroke="#262626" stroke-width="1.2"/>
<line x1="444.50" y1="217.70" x2="444.50" y2="213.70" stroke="#262626" stroke-width="1.2"/>
<line x1="442.84" y1="213.50" x2="446.76" y2="213.50" stroke="#262626" stroke-width="1.2"/>
<line x1="453.50" y1="213.20" x2="453.50" y2="211.00" stroke="#262626" stroke-width="1.2"/>
<line x1="451.40" y1="211.50" x2="455.60" y2="211.50" stroke="#262626" stroke-width="1.2"/>
<line x1="462.50" y1="228.80" x2="462.50" y2="222.80" stroke="#262626" stroke-width="1.2"/>
<line x1="460.88" y1="222.50" x2="465.01" y2="222.50" stroke="#262626" stroke-width="1.2"/>
<rect x="474.30" y="242.00" width="6.00" height="20.00" fill="#4f2468"/>
<rect x="483.70" y="233.20" width="5.70" height="28.80" fill="#6aaa3c"/>
<rect x="492.50" y="239.40" width="5.50" height="22.60" fill="#2c4f88"/>
<rect x="501.00" y="241.00" width="6.00" height="21.00" fill="#b1002b"/>
<line x1="477.50" y1="242.00" x2="477.50" y2="229.90" stroke="#262626" stroke-width="1.2"/>
<line x1="475.20" y1="229.50" x2="479.40" y2="229.50" stroke="#262626" stroke-width="1.2"/>
<line x1="486.50" y1="233.20" x2="486.50" y2="228.80" stroke="#262626" stroke-width="1.2"/>
<line x1="484.55" y1="228.50" x2="488.54" y2="228.50" stroke="#262626" stroke-width="1.2"/>
<line x1="495.50" y1="239.40" x2="495.50" y2="236.50" stroke="#262626" stroke-width="1.2"/>
<line x1="493.32" y1="236.50" x2="497.18" y2="236.50" stroke="#262626" stroke-width="1.2"/>
<line x1="504.50" y1="241.00" x2="504.50" y2="238.70" stroke="#262626" stroke-width="1.2"/>
<line x1="501.90" y1="238.50" x2="506.10" y2="238.50" stroke="#262626" stroke-width="1.2"/>
<line x1="408.50" y1="262.00" x2="408.50" y2="265.20" stroke="#000" stroke-width="0.9"/>
<text x="408.30" y="272.60" font-size="6.3" text-anchor="middle" font-weight="normal" fill="#1a1a1a" stroke="#1a1a1a" stroke-width="0.2">G0</text>
<line x1="449.50" y1="262.00" x2="449.50" y2="265.20" stroke="#000" stroke-width="0.9"/>
<text x="449.60" y="272.60" font-size="6.3" text-anchor="middle" font-weight="normal" fill="#1a1a1a" stroke="#1a1a1a" stroke-width="0.2">G1</text>
<line x1="490.50" y1="262.00" x2="490.50" y2="265.20" stroke="#000" stroke-width="0.9"/>
<text x="490.70" y="272.60" font-size="6.3" text-anchor="middle" font-weight="normal" fill="#1a1a1a" stroke="#1a1a1a" stroke-width="0.2">S/G2/M</text>
<text x="366.60" y="218.60" font-size="7.6" text-anchor="middle" font-weight="normal" fill="#1a1a1a" stroke="#1a1a1a" stroke-width="0.2" transform="rotate(-90 366.60 218.60)" textLength="64.8" lengthAdjust="spacingAndGlyphs">Percentage of cells</text>
<polyline points="394.50,239.50 394.50,216.50 407.50,216.50 407.50,227.50" fill="none" stroke="#111" stroke-width="1.1"/>
<line x1="403.30" y1="227.50" x2="414.40" y2="227.50" stroke="#111" stroke-width="1.1"/>
<circle cx="400.60" cy="212.90" r="1.1" fill="#151515"/>
<polyline points="408.50,227.50 408.50,196.50 421.50,196.50 421.50,201.50" fill="none" stroke="#111" stroke-width="1.1"/>
<circle cx="413.80" cy="193.60" r="1.1" fill="#151515"/>
<circle cx="417.20" cy="193.60" r="1.1" fill="#151515"/>
<polyline points="434.50,186.50 434.50,180.50 463.50,180.50 463.50,219.50" fill="none" stroke="#111" stroke-width="1.1"/>
<circle cx="450.00" cy="177.00" r="1.1" fill="#151515"/>
<polyline points="449.50,207.50 449.50,201.50 461.50,201.50 461.50,218.50" fill="none" stroke="#111" stroke-width="1.1"/>
<line x1="445.50" y1="207.50" x2="454.40" y2="207.50" stroke="#111" stroke-width="1.1"/>
<circle cx="454.80" cy="198.00" r="1.1" fill="#151515"/>
<line x1="54.50" y1="341.00" x2="54.50" y2="418.90" stroke="#111" stroke-width="1.5"/>
<line x1="51.20" y1="418.50" x2="54.20" y2="418.50" stroke="#111" stroke-width="1.5"/>
<text x="48.60" y="421.10" font-size="6.4" text-anchor="end" font-weight="normal" fill="#1a1a1a" stroke="#1a1a1a" stroke-width="0.2">0</text>
<line x1="51.20" y1="403.50" x2="54.20" y2="403.50" stroke="#111" stroke-width="1.5"/>
<text x="48.60" y="406.24" font-size="6.4" text-anchor="end" font-weight="normal" fill="#1a1a1a" stroke="#1a1a1a" stroke-width="0.2">10</text>
<line x1="51.20" y1="388.50" x2="54.20" y2="388.50" stroke="#111" stroke-width="1.5"/>
<text x="48.60" y="391.38" font-size="6.4" text-anchor="end" font-weight="normal" fill="#1a1a1a" stroke="#1a1a1a" stroke-width="0.2">20</text>
<line x1="51.20" y1="373.50" x2="54.20" y2="373.50" stroke="#111" stroke-width="1.5"/>
<text x="48.60" y="376.52" font-size="6.4" text-anchor="end" font-weight="normal" fill="#1a1a1a" stroke="#1a1a1a" stroke-width="0.2">30</text>
<line x1="51.20" y1="358.50" x2="54.20" y2="358.50" stroke="#111" stroke-width="1.5"/>
<text x="48.60" y="361.66" font-size="6.4" text-anchor="end" font-weight="normal" fill="#1a1a1a" stroke="#1a1a1a" stroke-width="0.2">40</text>
<line x1="51.20" y1="344.50" x2="54.20" y2="344.50" stroke="#111" stroke-width="1.5"/>
<text x="48.60" y="346.80" font-size="6.4" text-anchor="end" font-weight="normal" fill="#1a1a1a" stroke="#1a1a1a" stroke-width="0.2">50</text>
<line x1="53.80" y1="418.50" x2="132.90" y2="418.50" stroke="#111" stroke-width="1.5"/>
<rect x="57.70" y="365.20" width="13.10" height="53.10" fill="#4f2468"/>
<rect x="77.10" y="365.40" width="13.30" height="52.90" fill="#6aaa3c"/>
<rect x="97.10" y="361.00" width="13.10" height="57.30" fill="#2c4f88"/>
<rect x="116.30" y="360.00" width="13.10" height="58.30" fill="#b1002b"/>
<line x1="64.50" y1="365.20" x2="64.50" y2="360.60" stroke="#262626" stroke-width="1.1"/>
<line x1="61.00" y1="360.50" x2="67.50" y2="360.50" stroke="#262626" stroke-width="1.1"/>
<line x1="83.50" y1="365.40" x2="83.50" y2="360.00" stroke="#262626" stroke-width="1.1"/>
<line x1="80.50" y1="360.50" x2="87.00" y2="360.50" stroke="#262626" stroke-width="1.1"/>
<line x1="103.50" y1="361.00" x2="103.50" y2="354.20" stroke="#262626" stroke-width="1.1"/>
<line x1="100.40" y1="354.50" x2="106.90" y2="354.50" stroke="#262626" stroke-width="1.1"/>
<line x1="122.50" y1="360.00" x2="122.50" y2="355.20" stroke="#262626" stroke-width="1.1"/>
<line x1="119.60" y1="355.50" x2="126.10" y2="355.50" stroke="#262626" stroke-width="1.1"/>
<text x="65.70" y="424.50" font-size="6.5" text-anchor="end" font-weight="normal" fill="#1a1a1a" stroke="#1a1a1a" stroke-width="0.2" transform="rotate(-45 65.70 424.50)">Control (n=8)</text>
<text x="85.30" y="424.50" font-size="6.5" text-anchor="end" font-weight="normal" fill="#1a1a1a" stroke="#1a1a1a" stroke-width="0.2" transform="rotate(-45 85.30 424.50)">p53-/- (n=4)</text>
<text x="105.10" y="424.50" font-size="6.5" text-anchor="end" font-weight="normal" fill="#1a1a1a" stroke="#1a1a1a" stroke-width="0.2" transform="rotate(-45 105.10 424.50)">G12D/+ (n=4)</text>
<text x="124.30" y="424.50" font-size="6.5" text-anchor="end" font-weight="normal" fill="#1a1a1a" stroke="#1a1a1a" stroke-width="0.2" transform="rotate(-45 124.30 424.50)">G12D/+; p53-/- (n=5)</text>
<text x="36.60" y="380.20" font-size="8.2" text-anchor="middle" font-weight="normal" fill="#1a1a1a" stroke="#1a1a1a" stroke-width="0.2" transform="rotate(-90 36.60 380.20)" textLength="76.4" lengthAdjust="spacingAndGlyphs">EdU positive MPs (%)</text>
<rect x="165.00" y="314.70" width="8.80" height="3.60" fill="#4f2468"/>
<text x="176.30" y="318.70" font-size="6.1" text-anchor="start" font-weight="normal" fill="#1a1a1a" stroke="#1a1a1a" stroke-width="0.2">Control (n=5)</text>
<rect x="229.40" y="314.70" width="8.80" height="3.60" fill="#6aaa3c"/>
<text x="240.70" y="318.70" font-size="6.1" text-anchor="start" font-weight="normal" fill="#1a1a1a" stroke="#1a1a1a" stroke-width="0.2">p53-/- (n=3)</text>
<rect x="165.00" y="324.50" width="8.80" height="3.60" fill="#2c4f88"/>
<text x="176.30" y="328.50" font-size="6.1" text-anchor="start" font-weight="normal" fill="#1a1a1a" stroke="#1a1a1a" stroke-width="0.2">G12D/+ (n=6–7)</text>
<rect x="229.40" y="324.50" width="8.80" height="3.60" fill="#b1002b"/>
<text x="240.70" y="328.50" font-size="6.1" text-anchor="start" font-weight="normal" fill="#1a1a1a" stroke="#1a1a1a" stroke-width="0.2">G12D/+; p53-/- (n=4–7)</text>
<line x1="193.50" y1="339.20" x2="193.50" y2="418.90" stroke="#111" stroke-width="1.5"/>
<line x1="190.30" y1="418.50" x2="193.30" y2="418.50" stroke="#111" stroke-width="1.5"/>
<text x="187.70" y="421.10" font-size="6.4" text-anchor="end" font-weight="normal" fill="#1a1a1a" stroke="#1a1a1a" stroke-width="0.2">0</text>
<line x1="190.30" y1="392.50" x2="193.30" y2="392.50" stroke="#111" stroke-width="1.5"/>
<text x="187.70" y="395.75" font-size="6.4" text-anchor="end" font-weight="normal" fill="#1a1a1a" stroke="#1a1a1a" stroke-width="0.2">50</text>
<line x1="190.30" y1="367.50" x2="193.30" y2="367.50" stroke="#111" stroke-width="1.5"/>
<text x="187.70" y="370.40" font-size="6.4" text-anchor="end" font-weight="normal" fill="#1a1a1a" stroke="#1a1a1a" stroke-width="0.2">100</text>
<line x1="190.30" y1="342.50" x2="193.30" y2="342.50" stroke="#111" stroke-width="1.5"/>
<text x="187.70" y="345.05" font-size="6.4" text-anchor="end" font-weight="normal" fill="#1a1a1a" stroke="#1a1a1a" stroke-width="0.2">150</text>
<line x1="192.70" y1="418.50" x2="309.00" y2="418.50" stroke="#111" stroke-width="1.5"/>
<rect x="198.50" y="418.00" width="6.00" height="0.30" fill="#4f2468"/>
<rect x="206.00" y="416.60" width="5.60" height="1.70" fill="#6aaa3c"/>
<rect x="214.00" y="408.80" width="5.50" height="9.50" fill="#2c4f88"/>
<rect x="221.70" y="407.80" width="5.80" height="10.50" fill="#b1002b"/>
<line x1="208.50" y1="416.60" x2="208.50" y2="416.00" stroke="#262626" stroke-width="1.2"/>
<line x1="206.84" y1="416.50" x2="210.76" y2="416.50" stroke="#262626" stroke-width="1.2"/>
<line x1="216.50" y1="408.80" x2="216.50" y2="403.50" stroke="#262626" stroke-width="1.2"/>
<line x1="214.82" y1="403.50" x2="218.68" y2="403.50" stroke="#262626" stroke-width="1.2"/>
<line x1="224.50" y1="407.80" x2="224.50" y2="401.00" stroke="#262626" stroke-width="1.2"/>
<line x1="222.57" y1="401.50" x2="226.63" y2="401.50" stroke="#262626" stroke-width="1.2"/>
<rect x="235.70" y="391.70" width="5.40" height="26.60" fill="#4f2468"/>
<rect x="243.50" y="392.00" width="6.00" height="26.30" fill="#6aaa3c"/>
<rect x="251.70" y="372.50" width="5.80" height="45.80" fill="#2c4f88"/>
<rect x="259.50" y="364.00" width="5.50" height="54.30" fill="#b1002b"/>
<line x1="238.50" y1="391.70" x2="238.50" y2="386.50" stroke="#262626" stroke-width="1.2"/>
<line x1="236.51" y1="386.50" x2="240.29" y2="386.50" stroke="#262626" stroke-width="1.2"/>
<line x1="246.50" y1="392.00" x2="246.50" y2="390.00" stroke="#262626" stroke-width="1.2"/>
<line x1="244.40" y1="390.50" x2="248.60" y2="390.50" stroke="#262626" stroke-width="1.2"/>
<line x1="254.50" y1="372.50" x2="254.50" y2="364.00" stroke="#262626" stroke-width="1.2"/>
<line x1="252.57" y1="364.50" x2="256.63" y2="364.50" stroke="#262626" stroke-width="1.2"/>
<line x1="262.50" y1="364.00" x2="262.50" y2="359.70" stroke="#262626" stroke-width="1.2"/>
<line x1="260.32" y1="359.50" x2="264.18" y2="359.50" stroke="#262626" stroke-width="1.2"/>
<rect x="273.60" y="388.50" width="5.90" height="29.80" fill="#4f2468"/>
<rect x="281.70" y="383.70" width="5.80" height="34.60" fill="#6aaa3c"/>
<rect x="289.70" y="375.00" width="5.80" height="43.30" fill="#2c4f88"/>
<rect x="297.70" y="363.00" width="6.00" height="55.30" fill="#b1002b"/>
<line x1="276.50" y1="388.50" x2="276.50" y2="382.70" stroke="#262626" stroke-width="1.2"/>
<line x1="274.49" y1="382.50" x2="278.62" y2="382.50" stroke="#262626" stroke-width="1.2"/>
<line x1="284.50" y1="383.70" x2="284.50" y2="378.00" stroke="#262626" stroke-width="1.2"/>
<line x1="282.57" y1="378.50" x2="286.63" y2="378.50" stroke="#262626" stroke-width="1.2"/>
<line x1="292.50" y1="375.00" x2="292.50" y2="366.70" stroke="#262626" stroke-width="1.2"/>
<line x1="290.57" y1="366.50" x2="294.63" y2="366.50" stroke="#262626" stroke-width="1.2"/>
<line x1="300.50" y1="363.00" x2="300.50" y2="358.00" stroke="#262626" stroke-width="1.2"/>
<line x1="298.60" y1="358.50" x2="302.80" y2="358.50" stroke="#262626" stroke-width="1.2"/>
<line x1="212.50" y1="418.30" x2="212.50" y2="421.40" stroke="#000" stroke-width="0.9"/>
<line x1="250.50" y1="418.30" x2="250.50" y2="421.40" stroke="#000" stroke-width="0.9"/>
<line x1="288.50" y1="418.30" x2="288.50" y2="421.40" stroke="#000" stroke-width="0.9"/>
<text x="212.30" y="430.00" font-size="6.3" text-anchor="middle" font-weight="normal" fill="#1a1a1a" stroke="#1a1a1a" stroke-width="0.2">0</text>
<text x="250.70" y="430.00" font-size="6.3" text-anchor="middle" font-weight="normal" fill="#1a1a1a" stroke="#1a1a1a" stroke-width="0.2">GM-CSF</text>
<text x="250.70" y="438.80" font-size="6.3" text-anchor="middle" font-weight="normal" fill="#1a1a1a" stroke="#1a1a1a" stroke-width="0.2">(0.2ng/ml)</text>
<text x="288.80" y="430.00" font-size="6.3" text-anchor="middle" font-weight="normal" fill="#1a1a1a" stroke="#1a1a1a" stroke-width="0.2">IL-3</text>
<text x="288.80" y="438.80" font-size="6.3" text-anchor="middle" font-weight="normal" fill="#1a1a1a" stroke="#1a1a1a" stroke-width="0.2">(10ng/ml)</text>
<text x="171.80" y="378.90" font-size="8.2" text-anchor="middle" font-weight="normal" fill="#1a1a1a" stroke="#1a1a1a" stroke-width="0.2" transform="rotate(-90 171.80 378.90)" textLength="86.2" lengthAdjust="spacingAndGlyphs">Colonies/ 5x10<tspan dy="-2.5" font-size="5">4</tspan><tspan dy="2.5"> BM cells</tspan></text>
<polyline points="200.50,413.50 200.50,377.50 221.50,377.50 221.50,382.50" fill="none" stroke="#111" stroke-width="1.1"/>
<line x1="215.00" y1="382.50" x2="226.00" y2="382.50" stroke="#111" stroke-width="1.1"/>
<circle cx="206.60" cy="374.00" r="1.1" fill="#151515"/>
<circle cx="210.00" cy="374.00" r="1.1" fill="#151515"/>
<circle cx="213.40" cy="374.00" r="1.1" fill="#151515"/>
<polyline points="208.50,411.50 208.50,392.50 221.50,392.50 221.50,396.50" fill="none" stroke="#111" stroke-width="1.1"/>
<line x1="214.00" y1="396.50" x2="226.00" y2="396.50" stroke="#111" stroke-width="1.1"/>
<circle cx="213.00" cy="389.30" r="1.1" fill="#151515"/>
<circle cx="216.40" cy="389.30" r="1.1" fill="#151515"/>
<polyline points="242.50,381.50 242.50,339.50 259.50,339.50 259.50,344.50" fill="none" stroke="#111" stroke-width="1.1"/>
<line x1="236.00" y1="381.50" x2="248.00" y2="381.50" stroke="#111" stroke-width="1.1"/>
<line x1="253.00" y1="344.50" x2="265.00" y2="344.50" stroke="#111" stroke-width="1.1"/>
<circle cx="246.60" cy="336.90" r="1.1" fill="#151515"/>
<circle cx="250.00" cy="336.90" r="1.1" fill="#151515"/>
<circle cx="253.40" cy="336.90" r="1.1" fill="#151515"/>
<polyline points="254.50,363.50 254.50,351.50 262.50,351.50 262.50,357.50" fill="none" stroke="#111" stroke-width="1.1"/>
<circle cx="259.00" cy="348.30" r="1.1" fill="#151515"/>
<polyline points="279.50,373.50 279.50,341.50 296.50,341.50 296.50,345.50" fill="none" stroke="#111" stroke-width="1.1"/>
<line x1="274.00" y1="373.50" x2="286.00" y2="373.50" stroke="#111" stroke-width="1.1"/>
<line x1="291.00" y1="345.50" x2="300.70" y2="345.50" stroke="#111" stroke-width="1.1"/>
<circle cx="287.70" cy="338.30" r="1.1" fill="#151515"/>
<polyline points="291.50,362.50 291.50,353.50 301.50,353.50 301.50,355.50" fill="none" stroke="#111" stroke-width="1.1"/>
<circle cx="292.60" cy="349.90" r="1.1" fill="#151515"/>
<circle cx="296.00" cy="349.90" r="1.1" fill="#151515"/>
<circle cx="299.40" cy="349.90" r="1.1" fill="#151515"/>
<rect x="341.70" y="314.70" width="8.80" height="3.60" fill="#4f2468"/>
<text x="353.00" y="318.70" font-size="6.1" text-anchor="start" font-weight="normal" fill="#1a1a1a" stroke="#1a1a1a" stroke-width="0.2">Control (n=5–8)</text>
<rect x="407.30" y="314.70" width="8.80" height="3.60" fill="#6aaa3c"/>
<text x="418.60" y="318.70" font-size="6.1" text-anchor="start" font-weight="normal" fill="#1a1a1a" stroke="#1a1a1a" stroke-width="0.2">p53-/- (n=3–4)</text>
<rect x="341.70" y="324.50" width="8.80" height="3.60" fill="#2c4f88"/>
<text x="353.00" y="328.50" font-size="6.1" text-anchor="start" font-weight="normal" fill="#1a1a1a" stroke="#1a1a1a" stroke-width="0.2">G12D/+ (n=5–8)</text>
<rect x="407.30" y="324.50" width="8.80" height="3.60" fill="#b1002b"/>
<text x="418.60" y="328.50" font-size="6.1" text-anchor="start" font-weight="normal" fill="#1a1a1a" stroke="#1a1a1a" stroke-width="0.2">G12D/+; p53-/- (n=4–6)</text>
<line x1="371.50" y1="339.20" x2="371.50" y2="418.90" stroke="#111" stroke-width="1.5"/>
<line x1="368.70" y1="418.50" x2="371.70" y2="418.50" stroke="#111" stroke-width="1.5"/>
<text x="366.10" y="421.10" font-size="6.4" text-anchor="end" font-weight="normal" fill="#1a1a1a" stroke="#1a1a1a" stroke-width="0.2">0</text>
<line x1="368.70" y1="392.50" x2="371.70" y2="392.50" stroke="#111" stroke-width="1.5"/>
<text x="366.10" y="395.73" font-size="6.4" text-anchor="end" font-weight="normal" fill="#1a1a1a" stroke="#1a1a1a" stroke-width="0.2">2</text>
<line x1="368.70" y1="367.50" x2="371.70" y2="367.50" stroke="#111" stroke-width="1.5"/>
<text x="366.10" y="370.36" font-size="6.4" text-anchor="end" font-weight="normal" fill="#1a1a1a" stroke="#1a1a1a" stroke-width="0.2">4</text>
<line x1="368.70" y1="342.50" x2="371.70" y2="342.50" stroke="#111" stroke-width="1.5"/>
<text x="366.10" y="344.99" font-size="6.4" text-anchor="end" font-weight="normal" fill="#1a1a1a" stroke="#1a1a1a" stroke-width="0.2">6</text>
<line x1="371.10" y1="418.50" x2="487.50" y2="418.50" stroke="#111" stroke-width="1.5"/>
<rect x="375.40" y="405.70" width="6.00" height="12.60" fill="#4f2468"/>
<rect x="384.00" y="402.00" width="6.00" height="16.30" fill="#6aaa3c"/>
<rect x="392.00" y="397.50" width="6.00" height="20.80" fill="#2c4f88"/>
<rect x="400.00" y="390.50" width="6.50" height="27.80" fill="#b1002b"/>
<line x1="378.50" y1="405.70" x2="378.50" y2="401.70" stroke="#262626" stroke-width="1.2"/>
<line x1="376.30" y1="401.50" x2="380.50" y2="401.50" stroke="#262626" stroke-width="1.2"/>
<line x1="387.50" y1="402.00" x2="387.50" y2="399.50" stroke="#262626" stroke-width="1.2"/>
<line x1="384.90" y1="399.50" x2="389.10" y2="399.50" stroke="#262626" stroke-width="1.2"/>
<line x1="395.50" y1="397.50" x2="395.50" y2="393.00" stroke="#262626" stroke-width="1.2"/>
<line x1="392.90" y1="393.50" x2="397.10" y2="393.50" stroke="#262626" stroke-width="1.2"/>
<line x1="403.50" y1="390.50" x2="403.50" y2="385.00" stroke="#262626" stroke-width="1.2"/>
<line x1="400.98" y1="385.50" x2="405.52" y2="385.50" stroke="#262626" stroke-width="1.2"/>
<rect x="414.00" y="402.00" width="5.70" height="16.30" fill="#4f2468"/>
<rect x="422.00" y="364.80" width="6.00" height="53.50" fill="#6aaa3c"/>
<rect x="430.00" y="388.00" width="6.00" height="30.30" fill="#2c4f88"/>
<rect x="438.00" y="377.60" width="6.00" height="40.70" fill="#b1002b"/>
<line x1="416.50" y1="402.00" x2="416.50" y2="396.70" stroke="#262626" stroke-width="1.2"/>
<line x1="414.86" y1="396.50" x2="418.85" y2="396.50" stroke="#262626" stroke-width="1.2"/>
<line x1="425.50" y1="364.80" x2="425.50" y2="361.30" stroke="#262626" stroke-width="1.2"/>
<line x1="422.90" y1="361.50" x2="427.10" y2="361.50" stroke="#262626" stroke-width="1.2"/>
<line x1="433.50" y1="388.00" x2="433.50" y2="384.00" stroke="#262626" stroke-width="1.2"/>
<line x1="430.90" y1="384.50" x2="435.10" y2="384.50" stroke="#262626" stroke-width="1.2"/>
<line x1="441.50" y1="377.60" x2="441.50" y2="368.30" stroke="#262626" stroke-width="1.2"/>
<line x1="438.90" y1="368.50" x2="443.10" y2="368.50" stroke="#262626" stroke-width="1.2"/>
<rect x="452.00" y="408.00" width="6.00" height="10.30" fill="#4f2468"/>
<rect x="460.40" y="361.30" width="5.90" height="57.00" fill="#6aaa3c"/>
<rect x="468.00" y="389.50" width="6.00" height="28.80" fill="#2c4f88"/>
<rect x="476.10" y="367.90" width="6.10" height="50.40" fill="#b1002b"/>
<line x1="455.50" y1="408.00" x2="455.50" y2="403.50" stroke="#262626" stroke-width="1.2"/>
<line x1="452.90" y1="403.50" x2="457.10" y2="403.50" stroke="#262626" stroke-width="1.2"/>
<line x1="463.50" y1="361.30" x2="463.50" y2="356.50" stroke="#262626" stroke-width="1.2"/>
<line x1="461.29" y1="356.50" x2="465.42" y2="356.50" stroke="#262626" stroke-width="1.2"/>
<line x1="471.50" y1="389.50" x2="471.50" y2="385.50" stroke="#262626" stroke-width="1.2"/>
<line x1="468.90" y1="385.50" x2="473.10" y2="385.50" stroke="#262626" stroke-width="1.2"/>
<line x1="479.50" y1="367.90" x2="479.50" y2="359.60" stroke="#262626" stroke-width="1.2"/>
<line x1="477.01" y1="359.50" x2="481.28" y2="359.50" stroke="#262626" stroke-width="1.2"/>
<line x1="390.50" y1="418.30" x2="390.50" y2="421.40" stroke="#000" stroke-width="0.9"/>
<text x="390.50" y="430.00" font-size="6.3" text-anchor="middle" font-weight="normal" fill="#1a1a1a" stroke="#1a1a1a" stroke-width="0.2">1st</text>
<line x1="429.50" y1="418.30" x2="429.50" y2="421.40" stroke="#000" stroke-width="0.9"/>
<text x="429.20" y="430.00" font-size="6.3" text-anchor="middle" font-weight="normal" fill="#1a1a1a" stroke="#1a1a1a" stroke-width="0.2">2nd</text>
<line x1="467.50" y1="418.30" x2="467.50" y2="421.40" stroke="#000" stroke-width="0.9"/>
<text x="467.10" y="430.00" font-size="6.3" text-anchor="middle" font-weight="normal" fill="#1a1a1a" stroke="#1a1a1a" stroke-width="0.2">3rd</text>
<line x1="376.30" y1="435.50" x2="481.30" y2="435.50" stroke="#000" stroke-width="0.9"/>
<text x="430.30" y="445.30" font-size="8.1" text-anchor="middle" font-weight="normal" fill="#222" stroke="#222" stroke-width="0.2">IL-3 (10ng/ml)</text>
<text x="343.20" y="377.70" font-size="8.2" text-anchor="middle" font-weight="normal" fill="#1a1a1a" stroke="#1a1a1a" stroke-width="0.2" transform="rotate(-90 343.20 377.70)" textLength="30.4" lengthAdjust="spacingAndGlyphs">Colonies</text>
<text x="352.00" y="377.20" font-size="8.2" text-anchor="middle" font-weight="normal" fill="#1a1a1a" stroke="#1a1a1a" stroke-width="0.2" transform="rotate(-90 352.00 377.20)" textLength="59.8" lengthAdjust="spacingAndGlyphs">relative to control</text>
<polyline points="382.50,396.50 382.50,367.50 400.50,367.50 400.50,369.50" fill="none" stroke="#111" stroke-width="1.1"/>
<line x1="378.00" y1="396.50" x2="389.00" y2="396.50" stroke="#111" stroke-width="1.1"/>
<line x1="395.00" y1="369.50" x2="405.00" y2="369.50" stroke="#111" stroke-width="1.1"/>
<circle cx="390.60" cy="364.00" r="1.1" fill="#151515"/>
<polyline points="395.50,392.50 395.50,378.50 403.50,378.50 403.50,384.50" fill="none" stroke="#111" stroke-width="1.1"/>
<circle cx="395.60" cy="375.30" r="1.1" fill="#151515"/>
<circle cx="399.00" cy="375.30" r="1.1" fill="#151515"/>
<circle cx="402.40" cy="375.30" r="1.1" fill="#151515"/>
<polyline points="417.50,396.50 417.50,343.50 434.50,343.50 434.50,347.50" fill="none" stroke="#111" stroke-width="1.1"/>
<line x1="424.50" y1="347.50" x2="443.60" y2="347.50" stroke="#111" stroke-width="1.1"/>
<circle cx="422.80" cy="339.80" r="1.1" fill="#151515"/>
<circle cx="426.20" cy="339.80" r="1.1" fill="#151515"/>
<circle cx="429.60" cy="339.80" r="1.1" fill="#151515"/>
<polyline points="424.50,357.50 424.50,354.50 432.50,354.50 432.50,378.50" fill="none" stroke="#111" stroke-width="1.1"/>
<circle cx="425.20" cy="351.20" r="1.1" fill="#151515"/>
<circle cx="428.60" cy="351.20" r="1.1" fill="#151515"/>
<circle cx="432.00" cy="351.20" r="1.1" fill="#151515"/>
<polyline points="434.50,378.50 434.50,359.50 441.50,359.50 441.50,363.50" fill="none" stroke="#111" stroke-width="1.1"/>
<circle cx="435.60" cy="356.10" r="1.1" fill="#151515"/>
<circle cx="439.00" cy="356.10" r="1.1" fill="#151515"/>
<polyline points="454.50,402.50 454.50,337.50 471.50,337.50 471.50,340.50" fill="none" stroke="#111" stroke-width="1.1"/>
<line x1="461.70" y1="340.50" x2="480.00" y2="340.50" stroke="#111" stroke-width="1.1"/>
<circle cx="460.00" cy="334.20" r="1.1" fill="#151515"/>
<circle cx="463.40" cy="334.20" r="1.1" fill="#151515"/>
<circle cx="466.80" cy="334.20" r="1.1" fill="#151515"/>
<polyline points="462.50,356.50 462.50,348.50 468.50,348.50 468.50,382.50" fill="none" stroke="#111" stroke-width="1.1"/>
<circle cx="462.90" cy="345.30" r="1.1" fill="#151515"/>
<circle cx="466.30" cy="345.30" r="1.1" fill="#151515"/>
<circle cx="469.70" cy="345.30" r="1.1" fill="#151515"/>
<polyline points="470.50,382.50 470.50,349.50 479.50,349.50 479.50,353.50" fill="none" stroke="#111" stroke-width="1.1"/>
<circle cx="472.10" cy="347.00" r="1.1" fill="#151515"/>
<circle cx="475.50" cy="347.00" r="1.1" fill="#151515"/>
<circle cx="478.90" cy="347.00" r="1.1" fill="#151515"/>
<rect x="0.00" y="0.00" width="520.00" height="1.15" fill="#000"/>
<rect x="0.00" y="0.00" width="1.50" height="474.00" fill="#000"/>
<rect x="517.90" y="0.00" width="2.10" height="474.00" fill="#000"/>
<rect x="0.00" y="472.20" width="520.00" height="1.80" fill="#000"/>
</svg>
</body></html>
